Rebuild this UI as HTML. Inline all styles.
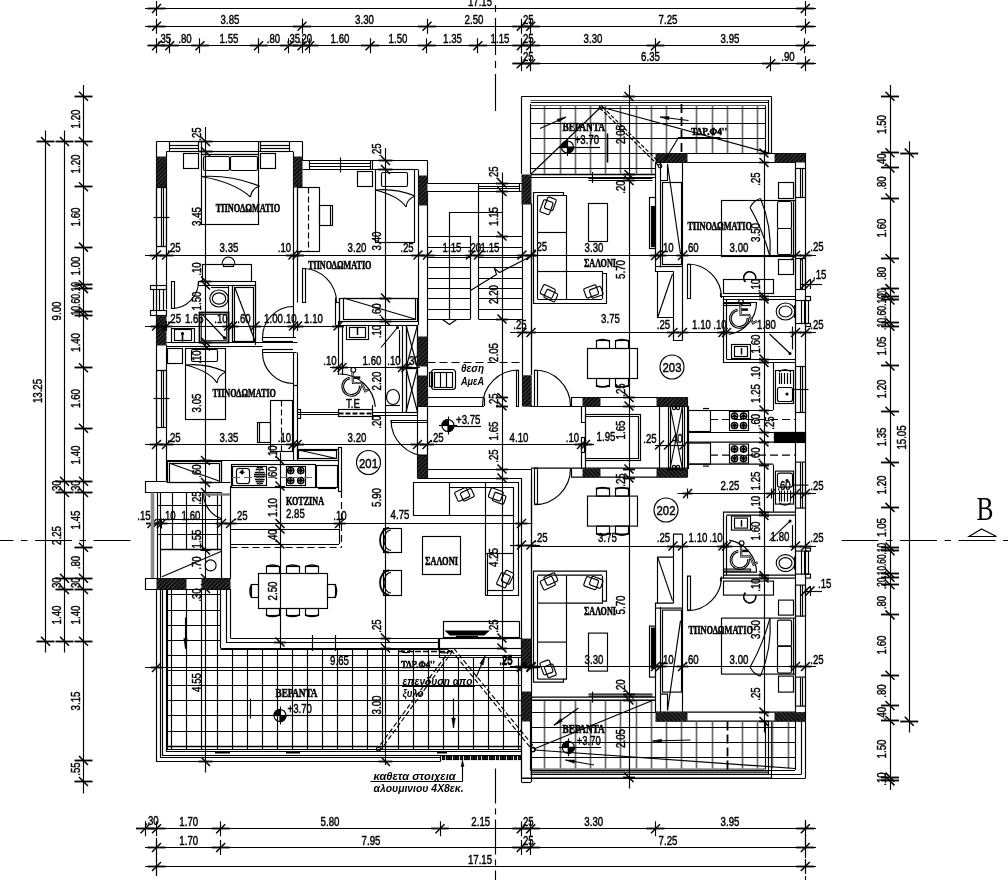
<!DOCTYPE html>
<html><head><meta charset="utf-8"><title>Κάτοψη ορόφου</title>
<style>
html,body{margin:0;padding:0;background:#fff}
svg{display:block}
text{stroke:none;fill:#000}
.n{font-family:"Liberation Sans",sans-serif;stroke:#000;stroke-width:.45}
.r{font-family:"Liberation Serif",serif;font-weight:bold;stroke:#000;stroke-width:.55}
.i{font-family:"Liberation Sans",sans-serif;font-style:italic;font-weight:bold}
.B{font-family:"Liberation Serif",serif}
</style></head><body>
<svg width="1008" height="880" viewBox="0 0 1008 880">
<defs><filter id="soft" x="0" y="0" width="1008" height="880" filterUnits="userSpaceOnUse"><feGaussianBlur stdDeviation="0.4"/></filter><pattern id="ht" width="3" height="3" patternUnits="userSpaceOnUse" patternTransform="rotate(-45)"><rect width="3" height="3" style="fill:#111;stroke:none"/><line x1="0" y1="0" x2="3" y2="0" style="stroke:#777;stroke-width:.8"/></pattern></defs>
<rect x="0" y="0" width="1008" height="880" style="fill:#fff;stroke:none"/>
<g fill="none" stroke="#000" stroke-width="1.15" filter="url(#soft)">
<line x1="145" y1="8.5" x2="816" y2="8.5"/>
<line x1="156.5" y1="1" x2="156.5" y2="16"/>
<line x1="152" y1="13" x2="161" y2="4" stroke-width="1.5"/>
<line x1="147.5" y1="8.5" x2="165.5" y2="8.5" stroke-width="1.8"/>
<line x1="805.5" y1="1" x2="805.5" y2="16"/>
<line x1="800.8" y1="13" x2="809.8" y2="4" stroke-width="1.5"/>
<line x1="796.3" y1="8.5" x2="814.3" y2="8.5" stroke-width="1.8"/>
<text class="n" x="480" y="5.8" font-size="12.6" text-anchor="middle" textLength="24.2" lengthAdjust="spacingAndGlyphs">17.15</text>
<line x1="145" y1="26.5" x2="816" y2="26.5"/>
<line x1="156.5" y1="18.75" x2="156.5" y2="33.75"/>
<line x1="152" y1="30.75" x2="161" y2="21.75" stroke-width="1.5"/>
<line x1="147.5" y1="26.5" x2="165.5" y2="26.5" stroke-width="1.8"/>
<line x1="302.5" y1="18.75" x2="302.5" y2="33.75"/>
<line x1="297.5" y1="30.75" x2="306.5" y2="21.75" stroke-width="1.5"/>
<line x1="293" y1="26.5" x2="311" y2="26.5" stroke-width="1.8"/>
<line x1="427.5" y1="18.75" x2="427.5" y2="33.75"/>
<line x1="422.5" y1="30.75" x2="431.5" y2="21.75" stroke-width="1.5"/>
<line x1="418" y1="26.5" x2="436" y2="26.5" stroke-width="1.8"/>
<line x1="521.5" y1="18.75" x2="521.5" y2="33.75"/>
<line x1="516.8" y1="30.75" x2="525.8" y2="21.75" stroke-width="1.5"/>
<line x1="512.3" y1="26.5" x2="530.3" y2="26.5" stroke-width="1.8"/>
<line x1="530.5" y1="18.75" x2="530.5" y2="33.75"/>
<line x1="526.2" y1="30.75" x2="535.2" y2="21.75" stroke-width="1.5"/>
<line x1="521.7" y1="26.5" x2="539.7" y2="26.5" stroke-width="1.8"/>
<line x1="805.5" y1="18.75" x2="805.5" y2="33.75"/>
<line x1="800.8" y1="30.75" x2="809.8" y2="21.75" stroke-width="1.5"/>
<line x1="796.3" y1="26.5" x2="814.3" y2="26.5" stroke-width="1.8"/>
<text class="n" x="230" y="23.8" font-size="12.6" text-anchor="middle" textLength="18.8" lengthAdjust="spacingAndGlyphs">3.85</text>
<text class="n" x="364.5" y="23.8" font-size="12.6" text-anchor="middle" textLength="18.8" lengthAdjust="spacingAndGlyphs">3.30</text>
<text class="n" x="474" y="23.8" font-size="12.6" text-anchor="middle" textLength="18.8" lengthAdjust="spacingAndGlyphs">2.50</text>
<text class="n" x="668" y="23.8" font-size="12.6" text-anchor="middle" textLength="18.8" lengthAdjust="spacingAndGlyphs">7.25</text>
<text class="n" x="527" y="23.8" font-size="12.6" text-anchor="middle" textLength="13.4" lengthAdjust="spacingAndGlyphs">.25</text>
<line x1="148" y1="45.5" x2="816" y2="45.5"/>
<line x1="156.5" y1="38.25" x2="156.5" y2="53.25"/>
<line x1="152" y1="50.25" x2="161" y2="41.25" stroke-width="1.5"/>
<line x1="147.5" y1="45.5" x2="165.5" y2="45.5" stroke-width="1.8"/>
<line x1="169.5" y1="38.25" x2="169.5" y2="53.25"/>
<line x1="165.23" y1="50.25" x2="174.23" y2="41.25" stroke-width="1.5"/>
<line x1="160.73" y1="45.5" x2="178.73" y2="45.5" stroke-width="1.8"/>
<line x1="199.5" y1="38.25" x2="199.5" y2="53.25"/>
<line x1="195.47" y1="50.25" x2="204.47" y2="41.25" stroke-width="1.5"/>
<line x1="190.97" y1="45.5" x2="208.97" y2="45.5" stroke-width="1.8"/>
<line x1="258.5" y1="38.25" x2="258.5" y2="53.25"/>
<line x1="254.06" y1="50.25" x2="263.06" y2="41.25" stroke-width="1.5"/>
<line x1="249.56" y1="45.5" x2="267.56" y2="45.5" stroke-width="1.8"/>
<line x1="288.5" y1="38.25" x2="288.5" y2="53.25"/>
<line x1="284.3" y1="50.25" x2="293.3" y2="41.25" stroke-width="1.5"/>
<line x1="279.8" y1="45.5" x2="297.8" y2="45.5" stroke-width="1.8"/>
<line x1="302.5" y1="38.25" x2="302.5" y2="53.25"/>
<line x1="297.53" y1="50.25" x2="306.53" y2="41.25" stroke-width="1.5"/>
<line x1="293.03" y1="45.5" x2="311.03" y2="45.5" stroke-width="1.8"/>
<line x1="309.5" y1="38.25" x2="309.5" y2="53.25"/>
<line x1="305.09" y1="50.25" x2="314.09" y2="41.25" stroke-width="1.5"/>
<line x1="300.59" y1="45.5" x2="318.59" y2="45.5" stroke-width="1.8"/>
<line x1="370.5" y1="38.25" x2="370.5" y2="53.25"/>
<line x1="365.57" y1="50.25" x2="374.57" y2="41.25" stroke-width="1.5"/>
<line x1="361.07" y1="45.5" x2="379.07" y2="45.5" stroke-width="1.8"/>
<line x1="426.5" y1="38.25" x2="426.5" y2="53.25"/>
<line x1="422.27" y1="50.25" x2="431.27" y2="41.25" stroke-width="1.5"/>
<line x1="417.77" y1="45.5" x2="435.77" y2="45.5" stroke-width="1.8"/>
<line x1="477.5" y1="38.25" x2="477.5" y2="53.25"/>
<line x1="473.3" y1="50.25" x2="482.3" y2="41.25" stroke-width="1.5"/>
<line x1="468.8" y1="45.5" x2="486.8" y2="45.5" stroke-width="1.8"/>
<line x1="521.5" y1="38.25" x2="521.5" y2="53.25"/>
<line x1="516.77" y1="50.25" x2="525.77" y2="41.25" stroke-width="1.5"/>
<line x1="512.27" y1="45.5" x2="530.27" y2="45.5" stroke-width="1.8"/>
<line x1="530.5" y1="38.25" x2="530.5" y2="53.25"/>
<line x1="526.22" y1="50.25" x2="535.22" y2="41.25" stroke-width="1.5"/>
<line x1="521.72" y1="45.5" x2="539.72" y2="45.5" stroke-width="1.8"/>
<line x1="655.5" y1="38.25" x2="655.5" y2="53.25"/>
<line x1="650.96" y1="50.25" x2="659.96" y2="41.25" stroke-width="1.5"/>
<line x1="646.46" y1="45.5" x2="664.46" y2="45.5" stroke-width="1.8"/>
<line x1="804.5" y1="38.25" x2="804.5" y2="53.25"/>
<line x1="800.27" y1="50.25" x2="809.27" y2="41.25" stroke-width="1.5"/>
<line x1="795.77" y1="45.5" x2="813.77" y2="45.5" stroke-width="1.8"/>
<text class="n" x="185" y="43.3" font-size="12.6" text-anchor="middle" textLength="13.4" lengthAdjust="spacingAndGlyphs">.80</text>
<text class="n" x="229" y="43.3" font-size="12.6" text-anchor="middle" textLength="18.8" lengthAdjust="spacingAndGlyphs">1.55</text>
<text class="n" x="273.5" y="43.3" font-size="12.6" text-anchor="middle" textLength="13.4" lengthAdjust="spacingAndGlyphs">.80</text>
<text class="n" x="340" y="43.3" font-size="12.6" text-anchor="middle" textLength="18.8" lengthAdjust="spacingAndGlyphs">1.60</text>
<text class="n" x="398" y="43.3" font-size="12.6" text-anchor="middle" textLength="18.8" lengthAdjust="spacingAndGlyphs">1.50</text>
<text class="n" x="452.5" y="43.3" font-size="12.6" text-anchor="middle" textLength="18.8" lengthAdjust="spacingAndGlyphs">1.35</text>
<text class="n" x="500" y="43.3" font-size="12.6" text-anchor="middle" textLength="18.8" lengthAdjust="spacingAndGlyphs">1.15</text>
<text class="n" x="593" y="43.3" font-size="12.6" text-anchor="middle" textLength="18.8" lengthAdjust="spacingAndGlyphs">3.30</text>
<text class="n" x="730" y="43.3" font-size="12.6" text-anchor="middle" textLength="18.8" lengthAdjust="spacingAndGlyphs">3.95</text>
<text class="n" x="164.5" y="43.3" font-size="12.6" text-anchor="middle" textLength="13.4" lengthAdjust="spacingAndGlyphs">.35</text>
<text class="n" x="293.5" y="43.3" font-size="12.6" text-anchor="middle" textLength="13.4" lengthAdjust="spacingAndGlyphs">.35</text>
<text class="n" x="305.5" y="43.3" font-size="12.6" text-anchor="middle" textLength="13.4" lengthAdjust="spacingAndGlyphs">.20</text>
<text class="n" x="527" y="43.3" font-size="12.6" text-anchor="middle" textLength="13.4" lengthAdjust="spacingAndGlyphs">.25</text>
<line x1="513.75" y1="63.5" x2="816" y2="63.5"/>
<line x1="521.5" y1="56.25" x2="521.5" y2="71.25"/>
<line x1="516.8" y1="68.25" x2="525.8" y2="59.25" stroke-width="1.5"/>
<line x1="512.3" y1="63.5" x2="530.3" y2="63.5" stroke-width="1.8"/>
<line x1="530.5" y1="56.25" x2="530.5" y2="71.25"/>
<line x1="526.2" y1="68.25" x2="535.2" y2="59.25" stroke-width="1.5"/>
<line x1="521.7" y1="63.5" x2="539.7" y2="63.5" stroke-width="1.8"/>
<line x1="770.5" y1="56.25" x2="770.5" y2="71.25"/>
<line x1="766.3" y1="68.25" x2="775.3" y2="59.25" stroke-width="1.5"/>
<line x1="761.8" y1="63.5" x2="779.8" y2="63.5" stroke-width="1.8"/>
<line x1="805.5" y1="56.25" x2="805.5" y2="71.25"/>
<line x1="800.8" y1="68.25" x2="809.8" y2="59.25" stroke-width="1.5"/>
<line x1="796.3" y1="63.5" x2="814.3" y2="63.5" stroke-width="1.8"/>
<text class="n" x="650.5" y="61.3" font-size="12.6" text-anchor="middle" textLength="18.8" lengthAdjust="spacingAndGlyphs">6.35</text>
<text class="n" x="788" y="61.3" font-size="12.6" text-anchor="middle" textLength="13.4" lengthAdjust="spacingAndGlyphs">.90</text>
<text class="n" x="527" y="61.3" font-size="12.6" text-anchor="middle" textLength="13.4" lengthAdjust="spacingAndGlyphs">.25</text>
<line x1="495.5" y1="111" x2="495.5" y2="0" stroke-dasharray="37 6 7 6"/>
<line x1="495.5" y1="768.5" x2="495.5" y2="880" stroke-dasharray="35 5 6 5"/>
<line x1="137.5" y1="828.5" x2="816" y2="828.5"/>
<line x1="145.5" y1="821.25" x2="145.5" y2="836.25"/>
<line x1="140.5" y1="833.25" x2="149.5" y2="824.25" stroke-width="1.5"/>
<line x1="136" y1="828.5" x2="154" y2="828.5" stroke-width="1.8"/>
<line x1="156.5" y1="821.25" x2="156.5" y2="836.25"/>
<line x1="152" y1="833.25" x2="161" y2="824.25" stroke-width="1.5"/>
<line x1="147.5" y1="828.5" x2="165.5" y2="828.5" stroke-width="1.8"/>
<line x1="220.5" y1="821.25" x2="220.5" y2="836.25"/>
<line x1="216.2" y1="833.25" x2="225.2" y2="824.25" stroke-width="1.5"/>
<line x1="211.7" y1="828.5" x2="229.7" y2="828.5" stroke-width="1.8"/>
<line x1="440.5" y1="821.25" x2="440.5" y2="836.25"/>
<line x1="435.5" y1="833.25" x2="444.5" y2="824.25" stroke-width="1.5"/>
<line x1="431" y1="828.5" x2="449" y2="828.5" stroke-width="1.8"/>
<line x1="521.5" y1="821.25" x2="521.5" y2="836.25"/>
<line x1="516.8" y1="833.25" x2="525.8" y2="824.25" stroke-width="1.5"/>
<line x1="512.3" y1="828.5" x2="530.3" y2="828.5" stroke-width="1.8"/>
<line x1="530.5" y1="821.25" x2="530.5" y2="836.25"/>
<line x1="526.2" y1="833.25" x2="535.2" y2="824.25" stroke-width="1.5"/>
<line x1="521.7" y1="828.5" x2="539.7" y2="828.5" stroke-width="1.8"/>
<line x1="655.5" y1="821.25" x2="655.5" y2="836.25"/>
<line x1="651" y1="833.25" x2="660" y2="824.25" stroke-width="1.5"/>
<line x1="646.5" y1="828.5" x2="664.5" y2="828.5" stroke-width="1.8"/>
<line x1="805.5" y1="821.25" x2="805.5" y2="836.25"/>
<line x1="800.8" y1="833.25" x2="809.8" y2="824.25" stroke-width="1.5"/>
<line x1="796.3" y1="828.5" x2="814.3" y2="828.5" stroke-width="1.8"/>
<text class="n" x="188.75" y="826.3" font-size="12.6" text-anchor="middle" textLength="18.8" lengthAdjust="spacingAndGlyphs">1.70</text>
<text class="n" x="330" y="826.3" font-size="12.6" text-anchor="middle" textLength="18.8" lengthAdjust="spacingAndGlyphs">5.80</text>
<text class="n" x="480.75" y="826.3" font-size="12.6" text-anchor="middle" textLength="18.8" lengthAdjust="spacingAndGlyphs">2.15</text>
<text class="n" x="593.75" y="826.3" font-size="12.6" text-anchor="middle" textLength="18.8" lengthAdjust="spacingAndGlyphs">3.30</text>
<text class="n" x="730" y="826.3" font-size="12.6" text-anchor="middle" textLength="18.8" lengthAdjust="spacingAndGlyphs">3.95</text>
<text class="n" x="152" y="825.3" font-size="12.6" text-anchor="middle" textLength="13.4" lengthAdjust="spacingAndGlyphs">.30</text>
<text class="n" x="527" y="826.3" font-size="12.6" text-anchor="middle" textLength="13.4" lengthAdjust="spacingAndGlyphs">.25</text>
<line x1="145" y1="847.5" x2="816" y2="847.5"/>
<line x1="156.5" y1="840" x2="156.5" y2="855"/>
<line x1="152" y1="852" x2="161" y2="843" stroke-width="1.5"/>
<line x1="147.5" y1="847.5" x2="165.5" y2="847.5" stroke-width="1.8"/>
<line x1="220.5" y1="840" x2="220.5" y2="855"/>
<line x1="216.2" y1="852" x2="225.2" y2="843" stroke-width="1.5"/>
<line x1="211.7" y1="847.5" x2="229.7" y2="847.5" stroke-width="1.8"/>
<line x1="521.5" y1="840" x2="521.5" y2="855"/>
<line x1="516.8" y1="852" x2="525.8" y2="843" stroke-width="1.5"/>
<line x1="512.3" y1="847.5" x2="530.3" y2="847.5" stroke-width="1.8"/>
<line x1="530.5" y1="840" x2="530.5" y2="855"/>
<line x1="526.2" y1="852" x2="535.2" y2="843" stroke-width="1.5"/>
<line x1="521.7" y1="847.5" x2="539.7" y2="847.5" stroke-width="1.8"/>
<line x1="805.5" y1="840" x2="805.5" y2="855"/>
<line x1="800.8" y1="852" x2="809.8" y2="843" stroke-width="1.5"/>
<line x1="796.3" y1="847.5" x2="814.3" y2="847.5" stroke-width="1.8"/>
<text class="n" x="188.75" y="845.3" font-size="12.6" text-anchor="middle" textLength="18.8" lengthAdjust="spacingAndGlyphs">1.70</text>
<text class="n" x="371" y="845.3" font-size="12.6" text-anchor="middle" textLength="18.8" lengthAdjust="spacingAndGlyphs">7.95</text>
<text class="n" x="668" y="845.3" font-size="12.6" text-anchor="middle" textLength="18.8" lengthAdjust="spacingAndGlyphs">7.25</text>
<text class="n" x="527" y="845.3" font-size="12.6" text-anchor="middle" textLength="13.4" lengthAdjust="spacingAndGlyphs">.25</text>
<line x1="145" y1="866.5" x2="816" y2="866.5"/>
<line x1="156.5" y1="859" x2="156.5" y2="874"/>
<line x1="152" y1="871" x2="161" y2="862" stroke-width="1.5"/>
<line x1="147.5" y1="866.5" x2="165.5" y2="866.5" stroke-width="1.8"/>
<line x1="805.5" y1="859" x2="805.5" y2="874"/>
<line x1="800.8" y1="871" x2="809.8" y2="862" stroke-width="1.5"/>
<line x1="796.3" y1="866.5" x2="814.3" y2="866.5" stroke-width="1.8"/>
<text class="n" x="480" y="864.3" font-size="12.6" text-anchor="middle" textLength="24.2" lengthAdjust="spacingAndGlyphs">17.15</text>
<line x1="156.5" y1="838" x2="156.5" y2="880" stroke-dasharray="10 4"/>
<line x1="805.5" y1="820" x2="805.5" y2="880" stroke-dasharray="10 4"/>
<line x1="45.5" y1="130.5" x2="45.5" y2="652.5"/>
<line x1="64.5" y1="130.5" x2="64.5" y2="652.5"/>
<line x1="83.5" y1="85" x2="83.5" y2="793.5"/>
<line x1="36.5" y1="141.5" x2="54.5" y2="141.5" stroke-width="1.8"/>
<line x1="41" y1="137" x2="50" y2="146" stroke-width="1.5"/>
<line x1="36.5" y1="641.5" x2="54.5" y2="641.5" stroke-width="1.8"/>
<line x1="41" y1="636.75" x2="50" y2="645.75" stroke-width="1.5"/>
<line x1="55.5" y1="141.5" x2="73.5" y2="141.5" stroke-width="1.8"/>
<line x1="60" y1="137" x2="69" y2="146" stroke-width="1.5"/>
<line x1="55.5" y1="481.5" x2="73.5" y2="481.5" stroke-width="1.8"/>
<line x1="60" y1="476.75" x2="69" y2="485.75" stroke-width="1.5"/>
<line x1="55.5" y1="492.5" x2="73.5" y2="492.5" stroke-width="1.8"/>
<line x1="60" y1="488" x2="69" y2="497" stroke-width="1.5"/>
<line x1="55.5" y1="578.5" x2="73.5" y2="578.5" stroke-width="1.8"/>
<line x1="60" y1="573.75" x2="69" y2="582.75" stroke-width="1.5"/>
<line x1="55.5" y1="589.5" x2="73.5" y2="589.5" stroke-width="1.8"/>
<line x1="60" y1="585" x2="69" y2="594" stroke-width="1.5"/>
<line x1="55.5" y1="641.5" x2="73.5" y2="641.5" stroke-width="1.8"/>
<line x1="60" y1="636.75" x2="69" y2="645.75" stroke-width="1.5"/>
<line x1="74.5" y1="96.5" x2="92.5" y2="96.5" stroke-width="1.8"/>
<line x1="79" y1="91.75" x2="88" y2="100.75" stroke-width="1.5"/>
<line x1="74.5" y1="141.5" x2="92.5" y2="141.5" stroke-width="1.8"/>
<line x1="79" y1="137" x2="88" y2="146" stroke-width="1.5"/>
<line x1="74.5" y1="186.5" x2="92.5" y2="186.5" stroke-width="1.8"/>
<line x1="79" y1="182.3" x2="88" y2="191.3" stroke-width="1.5"/>
<line x1="74.5" y1="247.5" x2="92.5" y2="247.5" stroke-width="1.8"/>
<line x1="79" y1="242.6" x2="88" y2="251.6" stroke-width="1.5"/>
<line x1="74.5" y1="284.5" x2="92.5" y2="284.5" stroke-width="1.8"/>
<line x1="79" y1="280.3" x2="88" y2="289.3" stroke-width="1.5"/>
<line x1="74.5" y1="288.5" x2="92.5" y2="288.5" stroke-width="1.8"/>
<line x1="79" y1="284.1" x2="88" y2="293.1" stroke-width="1.5"/>
<line x1="74.5" y1="311.5" x2="92.5" y2="311.5" stroke-width="1.8"/>
<line x1="79" y1="306.7" x2="88" y2="315.7" stroke-width="1.5"/>
<line x1="74.5" y1="315.5" x2="92.5" y2="315.5" stroke-width="1.8"/>
<line x1="79" y1="310.5" x2="88" y2="319.5" stroke-width="1.5"/>
<line x1="74.5" y1="367.5" x2="92.5" y2="367.5" stroke-width="1.8"/>
<line x1="79" y1="363.3" x2="88" y2="372.3" stroke-width="1.5"/>
<line x1="74.5" y1="428.5" x2="92.5" y2="428.5" stroke-width="1.8"/>
<line x1="79" y1="423.7" x2="88" y2="432.7" stroke-width="1.5"/>
<line x1="74.5" y1="481.5" x2="92.5" y2="481.5" stroke-width="1.8"/>
<line x1="79" y1="476.75" x2="88" y2="485.75" stroke-width="1.5"/>
<line x1="74.5" y1="492.5" x2="92.5" y2="492.5" stroke-width="1.8"/>
<line x1="79" y1="488" x2="88" y2="497" stroke-width="1.5"/>
<line x1="74.5" y1="547.5" x2="92.5" y2="547.5" stroke-width="1.8"/>
<line x1="79" y1="542.8" x2="88" y2="551.8" stroke-width="1.5"/>
<line x1="74.5" y1="578.5" x2="92.5" y2="578.5" stroke-width="1.8"/>
<line x1="79" y1="573.75" x2="88" y2="582.75" stroke-width="1.5"/>
<line x1="74.5" y1="589.5" x2="92.5" y2="589.5" stroke-width="1.8"/>
<line x1="79" y1="585" x2="88" y2="594" stroke-width="1.5"/>
<line x1="74.5" y1="641.5" x2="92.5" y2="641.5" stroke-width="1.8"/>
<line x1="79" y1="636.75" x2="88" y2="645.75" stroke-width="1.5"/>
<line x1="74.5" y1="760.5" x2="92.5" y2="760.5" stroke-width="1.8"/>
<line x1="79" y1="756" x2="88" y2="765" stroke-width="1.5"/>
<line x1="74.5" y1="781.5" x2="92.5" y2="781.5" stroke-width="1.8"/>
<line x1="79" y1="777" x2="88" y2="786" stroke-width="1.5"/>
<text class="n" font-size="12.6" text-anchor="middle" textLength="24.2" lengthAdjust="spacingAndGlyphs" transform="translate(41.7 391) rotate(-90)">13.25</text>
<text class="n" font-size="12.6" text-anchor="middle" textLength="18.8" lengthAdjust="spacingAndGlyphs" transform="translate(60.7 311) rotate(-90)">9.00</text>
<text class="n" font-size="12.6" text-anchor="middle" textLength="18.8" lengthAdjust="spacingAndGlyphs" transform="translate(60.7 535.5) rotate(-90)">2.25</text>
<text class="n" font-size="12.6" text-anchor="middle" textLength="18.8" lengthAdjust="spacingAndGlyphs" transform="translate(60.7 615) rotate(-90)">1.40</text>
<text class="n" font-size="12.6" text-anchor="middle" textLength="13.4" lengthAdjust="spacingAndGlyphs" transform="translate(60.7 487) rotate(-90)">.30</text>
<text class="n" font-size="12.6" text-anchor="middle" textLength="13.4" lengthAdjust="spacingAndGlyphs" transform="translate(60.7 584) rotate(-90)">.30</text>
<text class="n" font-size="12.6" text-anchor="middle" textLength="18.8" lengthAdjust="spacingAndGlyphs" transform="translate(79.7 119) rotate(-90)">1.20</text>
<text class="n" font-size="12.6" text-anchor="middle" textLength="18.8" lengthAdjust="spacingAndGlyphs" transform="translate(79.7 164) rotate(-90)">1.20</text>
<text class="n" font-size="12.6" text-anchor="middle" textLength="18.8" lengthAdjust="spacingAndGlyphs" transform="translate(79.7 217) rotate(-90)">1.60</text>
<text class="n" font-size="12.6" text-anchor="middle" textLength="18.8" lengthAdjust="spacingAndGlyphs" transform="translate(79.7 266) rotate(-90)">1.00</text>
<text class="n" font-size="12.6" text-anchor="middle" textLength="18.8" lengthAdjust="spacingAndGlyphs" transform="translate(79.7 342.5) rotate(-90)">1.40</text>
<text class="n" font-size="12.6" text-anchor="middle" textLength="18.8" lengthAdjust="spacingAndGlyphs" transform="translate(79.7 398.5) rotate(-90)">1.60</text>
<text class="n" font-size="12.6" text-anchor="middle" textLength="18.8" lengthAdjust="spacingAndGlyphs" transform="translate(79.7 455) rotate(-90)">1.40</text>
<text class="n" font-size="12.6" text-anchor="middle" textLength="18.8" lengthAdjust="spacingAndGlyphs" transform="translate(79.7 520) rotate(-90)">1.45</text>
<text class="n" font-size="12.6" text-anchor="middle" textLength="13.4" lengthAdjust="spacingAndGlyphs" transform="translate(79.7 562.5) rotate(-90)">.80</text>
<text class="n" font-size="12.6" text-anchor="middle" textLength="18.8" lengthAdjust="spacingAndGlyphs" transform="translate(79.7 615) rotate(-90)">1.40</text>
<text class="n" font-size="12.6" text-anchor="middle" textLength="18.8" lengthAdjust="spacingAndGlyphs" transform="translate(79.7 701) rotate(-90)">3.15</text>
<text class="n" font-size="12.6" text-anchor="middle" textLength="13.4" lengthAdjust="spacingAndGlyphs" transform="translate(79.7 769) rotate(-90)">.55</text>
<text class="n" font-size="12.6" text-anchor="middle" textLength="36" lengthAdjust="spacingAndGlyphs" transform="translate(79.7 300) rotate(-90)">.10.60.10</text>
<text class="n" font-size="12.6" text-anchor="middle" textLength="13.4" lengthAdjust="spacingAndGlyphs" transform="translate(79.7 487) rotate(-90)">.30</text>
<text class="n" font-size="12.6" text-anchor="middle" textLength="13.4" lengthAdjust="spacingAndGlyphs" transform="translate(79.7 584) rotate(-90)">.30</text>
<line x1="890.5" y1="85" x2="890.5" y2="790"/>
<line x1="909.5" y1="141.25" x2="909.5" y2="732.5"/>
<line x1="881" y1="96.5" x2="899" y2="96.5" stroke-width="1.8"/>
<line x1="885.5" y1="91.75" x2="894.5" y2="100.75" stroke-width="1.5"/>
<line x1="881" y1="152.5" x2="899" y2="152.5" stroke-width="1.8"/>
<line x1="885.5" y1="148.33" x2="894.5" y2="157.33" stroke-width="1.5"/>
<line x1="881" y1="167.5" x2="899" y2="167.5" stroke-width="1.8"/>
<line x1="885.5" y1="163.42" x2="894.5" y2="172.42" stroke-width="1.5"/>
<line x1="881" y1="198.5" x2="899" y2="198.5" stroke-width="1.8"/>
<line x1="885.5" y1="193.59" x2="894.5" y2="202.59" stroke-width="1.5"/>
<line x1="881" y1="258.5" x2="899" y2="258.5" stroke-width="1.8"/>
<line x1="885.5" y1="253.95" x2="894.5" y2="262.95" stroke-width="1.5"/>
<line x1="881" y1="288.5" x2="899" y2="288.5" stroke-width="1.8"/>
<line x1="885.5" y1="284.12" x2="894.5" y2="293.12" stroke-width="1.5"/>
<line x1="881" y1="296.5" x2="899" y2="296.5" stroke-width="1.8"/>
<line x1="885.5" y1="291.67" x2="894.5" y2="300.67" stroke-width="1.5"/>
<line x1="881" y1="299.5" x2="899" y2="299.5" stroke-width="1.8"/>
<line x1="885.5" y1="295.44" x2="894.5" y2="304.44" stroke-width="1.5"/>
<line x1="881" y1="322.5" x2="899" y2="322.5" stroke-width="1.8"/>
<line x1="885.5" y1="318.07" x2="894.5" y2="327.07" stroke-width="1.5"/>
<line x1="881" y1="326.5" x2="899" y2="326.5" stroke-width="1.8"/>
<line x1="885.5" y1="321.84" x2="894.5" y2="330.84" stroke-width="1.5"/>
<line x1="881" y1="365.5" x2="899" y2="365.5" stroke-width="1.8"/>
<line x1="885.5" y1="361.45" x2="894.5" y2="370.45" stroke-width="1.5"/>
<line x1="881" y1="411.5" x2="899" y2="411.5" stroke-width="1.8"/>
<line x1="885.5" y1="406.71" x2="894.5" y2="415.71" stroke-width="1.5"/>
<line x1="881" y1="462.5" x2="899" y2="462.5" stroke-width="1.8"/>
<line x1="885.5" y1="457.63" x2="894.5" y2="466.63" stroke-width="1.5"/>
<line x1="881" y1="507.5" x2="899" y2="507.5" stroke-width="1.8"/>
<line x1="885.5" y1="502.9" x2="894.5" y2="511.9" stroke-width="1.5"/>
<line x1="881" y1="547.5" x2="899" y2="547.5" stroke-width="1.8"/>
<line x1="885.5" y1="542.5" x2="894.5" y2="551.5" stroke-width="1.5"/>
<line x1="881" y1="550.5" x2="899" y2="550.5" stroke-width="1.8"/>
<line x1="885.5" y1="546.28" x2="894.5" y2="555.28" stroke-width="1.5"/>
<line x1="881" y1="573.5" x2="899" y2="573.5" stroke-width="1.8"/>
<line x1="885.5" y1="568.91" x2="894.5" y2="577.91" stroke-width="1.5"/>
<line x1="881" y1="577.5" x2="899" y2="577.5" stroke-width="1.8"/>
<line x1="885.5" y1="572.68" x2="894.5" y2="581.68" stroke-width="1.5"/>
<line x1="881" y1="584.5" x2="899" y2="584.5" stroke-width="1.8"/>
<line x1="885.5" y1="580.22" x2="894.5" y2="589.22" stroke-width="1.5"/>
<line x1="881" y1="614.5" x2="899" y2="614.5" stroke-width="1.8"/>
<line x1="885.5" y1="610.4" x2="894.5" y2="619.4" stroke-width="1.5"/>
<line x1="881" y1="675.5" x2="899" y2="675.5" stroke-width="1.8"/>
<line x1="885.5" y1="670.75" x2="894.5" y2="679.75" stroke-width="1.5"/>
<line x1="881" y1="705.5" x2="899" y2="705.5" stroke-width="1.8"/>
<line x1="885.5" y1="700.93" x2="894.5" y2="709.93" stroke-width="1.5"/>
<line x1="881" y1="720.5" x2="899" y2="720.5" stroke-width="1.8"/>
<line x1="885.5" y1="716.02" x2="894.5" y2="725.02" stroke-width="1.5"/>
<line x1="881" y1="777.5" x2="899" y2="777.5" stroke-width="1.8"/>
<line x1="885.5" y1="772.6" x2="894.5" y2="781.6" stroke-width="1.5"/>
<line x1="881" y1="780.5" x2="899" y2="780.5" stroke-width="1.8"/>
<line x1="885.5" y1="776.37" x2="894.5" y2="785.37" stroke-width="1.5"/>
<line x1="900.25" y1="153.5" x2="918.25" y2="153.5" stroke-width="1.8"/>
<line x1="904.75" y1="148.5" x2="913.75" y2="157.5" stroke-width="1.5"/>
<line x1="900.25" y1="721.5" x2="918.25" y2="721.5" stroke-width="1.8"/>
<line x1="904.75" y1="716.75" x2="913.75" y2="725.75" stroke-width="1.5"/>
<text class="n" font-size="12.6" text-anchor="middle" textLength="24.2" lengthAdjust="spacingAndGlyphs" transform="translate(905.7 437.5) rotate(-90)">15.05</text>
<text class="n" font-size="12.6" text-anchor="middle" textLength="18.8" lengthAdjust="spacingAndGlyphs" transform="translate(885.7 124.5) rotate(-90)">1.50</text>
<text class="n" font-size="12.6" text-anchor="middle" textLength="13.4" lengthAdjust="spacingAndGlyphs" transform="translate(885.7 160) rotate(-90)">.40</text>
<text class="n" font-size="12.6" text-anchor="middle" textLength="13.4" lengthAdjust="spacingAndGlyphs" transform="translate(885.7 183) rotate(-90)">.80</text>
<text class="n" font-size="12.6" text-anchor="middle" textLength="18.8" lengthAdjust="spacingAndGlyphs" transform="translate(885.7 228) rotate(-90)">1.60</text>
<text class="n" font-size="12.6" text-anchor="middle" textLength="13.4" lengthAdjust="spacingAndGlyphs" transform="translate(885.7 273.5) rotate(-90)">.80</text>
<text class="n" font-size="12.6" text-anchor="middle" textLength="18.8" lengthAdjust="spacingAndGlyphs" transform="translate(885.7 346) rotate(-90)">1.05</text>
<text class="n" font-size="12.6" text-anchor="middle" textLength="18.8" lengthAdjust="spacingAndGlyphs" transform="translate(885.7 389) rotate(-90)">1.20</text>
<text class="n" font-size="12.6" text-anchor="middle" textLength="18.8" lengthAdjust="spacingAndGlyphs" transform="translate(885.7 437) rotate(-90)">1.35</text>
<text class="n" font-size="12.6" text-anchor="middle" textLength="18.8" lengthAdjust="spacingAndGlyphs" transform="translate(885.7 485) rotate(-90)">1.20</text>
<text class="n" font-size="12.6" text-anchor="middle" textLength="18.8" lengthAdjust="spacingAndGlyphs" transform="translate(885.7 527.5) rotate(-90)">1.05</text>
<text class="n" font-size="12.6" text-anchor="middle" textLength="13.4" lengthAdjust="spacingAndGlyphs" transform="translate(885.7 602.5) rotate(-90)">.80</text>
<text class="n" font-size="12.6" text-anchor="middle" textLength="18.8" lengthAdjust="spacingAndGlyphs" transform="translate(885.7 645) rotate(-90)">1.60</text>
<text class="n" font-size="12.6" text-anchor="middle" textLength="13.4" lengthAdjust="spacingAndGlyphs" transform="translate(885.7 691) rotate(-90)">.80</text>
<text class="n" font-size="12.6" text-anchor="middle" textLength="13.4" lengthAdjust="spacingAndGlyphs" transform="translate(885.7 713.5) rotate(-90)">.40</text>
<text class="n" font-size="12.6" text-anchor="middle" textLength="18.8" lengthAdjust="spacingAndGlyphs" transform="translate(885.7 749) rotate(-90)">1.50</text>
<text class="n" font-size="12.6" text-anchor="middle" textLength="13.4" lengthAdjust="spacingAndGlyphs" transform="translate(885.7 779) rotate(-90)">.10</text>
<text class="n" font-size="12.6" text-anchor="middle" textLength="36" lengthAdjust="spacingAndGlyphs" transform="translate(885.7 312) rotate(-90)">.10.60.10</text>
<text class="n" font-size="12.6" text-anchor="middle" textLength="9" lengthAdjust="spacingAndGlyphs" transform="translate(885.7 293) rotate(-90)">.20</text>
<text class="n" font-size="12.6" text-anchor="middle" textLength="46" lengthAdjust="spacingAndGlyphs" transform="translate(885.7 566) rotate(-90)">.20.10.60.10</text>
<line x1="130.5" y1="540.5" x2="0" y2="540.5" stroke-dasharray="37 7.5 6.5 7.5"/>
<line x1="841.5" y1="540.5" x2="1008" y2="540.5" stroke-dasharray="37 7.5 6.5 7.5"/>
<text class="B" x="976.5" y="519.5" font-size="34" textLength="17" lengthAdjust="spacingAndGlyphs">B</text>
<path d="M969 536.5 L981.5 529 L996.5 536.5 Z"/>
<line x1="156.5" y1="141.5" x2="302.5" y2="141.5"/>
<line x1="156.5" y1="141.5" x2="156.5" y2="345"/>
<line x1="302.5" y1="141.5" x2="302.5" y2="160.5"/>
<line x1="166.5" y1="151.5" x2="293" y2="151.5"/>
<line x1="166.5" y1="151.5" x2="166.5" y2="281.5"/>
<line x1="293.5" y1="151.5" x2="293.5" y2="338"/>
<rect x="156.5" y="156.5" width="10" height="31" style="fill:url(#ht);stroke:none"/>
<rect x="293.5" y="156.5" width="9" height="31" style="fill:url(#ht);stroke:none"/>
<line x1="169.5" y1="141.5" x2="198.5" y2="141.5"/>
<line x1="169.5" y1="151.5" x2="198.5" y2="151.5"/>
<line x1="169.5" y1="145.5" x2="198.5" y2="145.5"/>
<line x1="169.5" y1="148.5" x2="198.5" y2="148.5"/>
<line x1="169.5" y1="141.5" x2="169.5" y2="151.5"/>
<line x1="198.5" y1="141.5" x2="198.5" y2="151.5"/>
<line x1="201.5" y1="141.5" x2="201.5" y2="151.5"/>
<line x1="260" y1="141.5" x2="289" y2="141.5"/>
<line x1="260" y1="151.5" x2="289" y2="151.5"/>
<line x1="260" y1="145.5" x2="289" y2="145.5"/>
<line x1="260" y1="148.5" x2="289" y2="148.5"/>
<line x1="260.5" y1="141.5" x2="260.5" y2="151.5"/>
<line x1="289.5" y1="141.5" x2="289.5" y2="151.5"/>
<line x1="258.5" y1="141.5" x2="258.5" y2="151.5"/>
<line x1="156.5" y1="187.5" x2="156.5" y2="246"/>
<line x1="166.5" y1="187.5" x2="166.5" y2="246"/>
<line x1="161.5" y1="187.5" x2="161.5" y2="246"/>
<line x1="163.5" y1="187.5" x2="163.5" y2="246"/>
<line x1="156.5" y1="187.5" x2="166.5" y2="187.5"/>
<line x1="156.5" y1="246.5" x2="166.5" y2="246.5"/>
<line x1="153.5" y1="217.5" x2="169.5" y2="217.5"/>
<line x1="156.5" y1="246.5" x2="166.5" y2="246.5"/>
<rect x="201.5" y="151.5" width="57" height="3"/>
<rect x="201.5" y="154.5" width="57" height="70"/>
<rect x="203.5" y="156.5" width="26" height="14" rx="1.5"/>
<rect x="230.5" y="156.5" width="27" height="14" rx="1.5"/>
<rect x="183.5" y="153.5" width="15" height="15"/>
<rect x="260.5" y="153.5" width="15" height="15"/>
<path d="M201.5 176.5 Q230.5 174.5 259.5 186"/>
<path d="M201.5 176.5 Q234.5 182.5 250.5 197"/>
<path d="M259.5 186 Q251.5 189 250.5 197"/>
<text class="n" font-size="12.6" text-anchor="middle" textLength="18.8" lengthAdjust="spacingAndGlyphs" transform="translate(201.2 216.5) rotate(-90)">3.45</text>
<text class="r" x="215.8" y="211.7" font-size="12.8" textLength="64.5" lengthAdjust="spacingAndGlyphs">ΤΠΝΟΔΩΜΑΤΙΟ</text>
<line x1="205.5" y1="127" x2="205.5" y2="772.5"/>
<line x1="198.5" y1="141.5" x2="212.5" y2="141.5" stroke-width="1.8"/>
<line x1="201" y1="137" x2="210" y2="146" stroke-width="1.5"/>
<line x1="198.5" y1="151.5" x2="212.5" y2="151.5" stroke-width="1.8"/>
<line x1="201" y1="147" x2="210" y2="156" stroke-width="1.5"/>
<text class="n" font-size="12.6" text-anchor="middle" textLength="13.4" lengthAdjust="spacingAndGlyphs" transform="translate(200.7 134) rotate(-90)">.25</text>
<line x1="145" y1="255.5" x2="531" y2="255.5"/>
<line x1="156.5" y1="250" x2="156.5" y2="260"/>
<line x1="152" y1="259.5" x2="161" y2="250.5" stroke-width="1.5"/>
<line x1="149.5" y1="255.5" x2="163.5" y2="255.5" stroke-width="1.8"/>
<line x1="166.5" y1="250" x2="166.5" y2="260"/>
<line x1="162" y1="259.5" x2="171" y2="250.5" stroke-width="1.5"/>
<line x1="159.5" y1="255.5" x2="173.5" y2="255.5" stroke-width="1.8"/>
<line x1="293.5" y1="250" x2="293.5" y2="260"/>
<line x1="288.5" y1="259.5" x2="297.5" y2="250.5" stroke-width="1.5"/>
<line x1="286" y1="255.5" x2="300" y2="255.5" stroke-width="1.8"/>
<line x1="297.5" y1="250" x2="297.5" y2="260"/>
<line x1="292.5" y1="259.5" x2="301.5" y2="250.5" stroke-width="1.5"/>
<line x1="290" y1="255.5" x2="304" y2="255.5" stroke-width="1.8"/>
<line x1="418.5" y1="250" x2="418.5" y2="260"/>
<line x1="413.5" y1="259.5" x2="422.5" y2="250.5" stroke-width="1.5"/>
<line x1="411" y1="255.5" x2="425" y2="255.5" stroke-width="1.8"/>
<line x1="427.5" y1="250" x2="427.5" y2="260"/>
<line x1="423" y1="259.5" x2="432" y2="250.5" stroke-width="1.5"/>
<line x1="420.5" y1="255.5" x2="434.5" y2="255.5" stroke-width="1.8"/>
<text class="n" x="174" y="252.3" font-size="12.6" text-anchor="middle" textLength="13.4" lengthAdjust="spacingAndGlyphs">.25</text>
<text class="n" x="229" y="252.3" font-size="12.6" text-anchor="middle" textLength="18.8" lengthAdjust="spacingAndGlyphs">3.35</text>
<text class="n" x="284.5" y="252.3" font-size="12.6" text-anchor="middle" textLength="13.4" lengthAdjust="spacingAndGlyphs">.10</text>
<text class="n" x="357" y="252.3" font-size="12.6" text-anchor="middle" textLength="18.8" lengthAdjust="spacingAndGlyphs">3.20</text>
<text class="n" x="407" y="252.3" font-size="12.6" text-anchor="middle" textLength="13.4" lengthAdjust="spacingAndGlyphs">.25</text>
<rect x="202.5" y="264.5" width="49" height="17"/>
<path d="M222 264.5 A6.5 7.5 0 0 1 235 264.5"/>
<rect x="223.5" y="264.5" width="10" height="2"/>
<line x1="198.5" y1="281.5" x2="255" y2="281.5"/>
<line x1="198.5" y1="285.5" x2="255" y2="285.5"/>
<line x1="198.5" y1="281" x2="198.5" y2="285"/>
<line x1="228.5" y1="285" x2="228.5" y2="342"/>
<line x1="232.5" y1="285" x2="232.5" y2="342"/>
<line x1="255.5" y1="281" x2="255.5" y2="345"/>
<ellipse cx="219" cy="298.5" rx="9.2" ry="8.5"/>
<ellipse cx="219" cy="298.5" rx="6.7" ry="5.7"/>
<line x1="211" y1="287.5" x2="228.5" y2="287.5"/>
<rect x="199.5" y="312.5" width="29" height="30" stroke-width="1.8"/>
<rect x="201.5" y="314.5" width="25" height="26" stroke-width="0.8"/>
<line x1="202" y1="314" x2="224.5" y2="338"/>
<circle cx="224.5" cy="338" r="1.2" style="fill:#000"/>
<rect x="232.5" y="285.5" width="23" height="56"/>
<rect x="234.5" y="287.5" width="19" height="54"/>
<line x1="235" y1="288" x2="255" y2="341"/>
<path d="M171.5 308.5 A27 27 0 0 0 198.5 281.5"/>
<path d="M171.5 281.5 L171.5 308.5 L174.5 308.5 L174.5 281.5 Z"/>
<line x1="166.5" y1="281.5" x2="166.5" y2="309"/>
<rect x="150.5" y="285.5" width="16" height="4"/>
<rect x="150.5" y="310.5" width="16" height="5"/>
<line x1="153.5" y1="289.5" x2="153.5" y2="310.5"/>
<line x1="156.5" y1="289.5" x2="156.5" y2="310.5"/>
<line x1="159.5" y1="289.5" x2="159.5" y2="310.5"/>
<line x1="163.5" y1="289.5" x2="163.5" y2="310.5"/>
<rect x="156.5" y="315.5" width="10" height="30" style="fill:url(#ht);stroke:none"/>
<line x1="145" y1="326.5" x2="342.5" y2="326.5"/>
<line x1="156.5" y1="321" x2="156.5" y2="331"/>
<line x1="152" y1="330.5" x2="161" y2="321.5" stroke-width="1.5"/>
<line x1="150.5" y1="326.5" x2="162.5" y2="326.5" stroke-width="1.8"/>
<line x1="166.5" y1="321" x2="166.5" y2="331"/>
<line x1="162" y1="330.5" x2="171" y2="321.5" stroke-width="1.5"/>
<line x1="160.5" y1="326.5" x2="172.5" y2="326.5" stroke-width="1.8"/>
<line x1="228.5" y1="321" x2="228.5" y2="331"/>
<line x1="224" y1="330.5" x2="233" y2="321.5" stroke-width="1.5"/>
<line x1="222.5" y1="326.5" x2="234.5" y2="326.5" stroke-width="1.8"/>
<line x1="232.5" y1="321" x2="232.5" y2="331"/>
<line x1="228" y1="330.5" x2="237" y2="321.5" stroke-width="1.5"/>
<line x1="226.5" y1="326.5" x2="238.5" y2="326.5" stroke-width="1.8"/>
<line x1="255.5" y1="321" x2="255.5" y2="331"/>
<line x1="250.5" y1="330.5" x2="259.5" y2="321.5" stroke-width="1.5"/>
<line x1="249" y1="326.5" x2="261" y2="326.5" stroke-width="1.8"/>
<line x1="293.5" y1="321" x2="293.5" y2="331"/>
<line x1="289" y1="330.5" x2="298" y2="321.5" stroke-width="1.5"/>
<line x1="287.5" y1="326.5" x2="299.5" y2="326.5" stroke-width="1.8"/>
<line x1="297.5" y1="321" x2="297.5" y2="331"/>
<line x1="293" y1="330.5" x2="302" y2="321.5" stroke-width="1.5"/>
<line x1="291.5" y1="326.5" x2="303.5" y2="326.5" stroke-width="1.8"/>
<line x1="338.5" y1="321" x2="338.5" y2="331"/>
<line x1="333.5" y1="330.5" x2="342.5" y2="321.5" stroke-width="1.5"/>
<line x1="332" y1="326.5" x2="344" y2="326.5" stroke-width="1.8"/>
<text class="n" x="174.3" y="323.3" font-size="12.6" text-anchor="middle" textLength="13.4" lengthAdjust="spacingAndGlyphs">.25</text>
<text class="n" x="194.3" y="323.3" font-size="12.6" text-anchor="middle" textLength="18.8" lengthAdjust="spacingAndGlyphs">1.65</text>
<text class="n" x="221" y="323.3" font-size="12.6" text-anchor="middle" textLength="13.4" lengthAdjust="spacingAndGlyphs">.10</text>
<text class="n" x="244" y="323.3" font-size="12.6" text-anchor="middle" textLength="13.4" lengthAdjust="spacingAndGlyphs">.60</text>
<text class="n" x="273.5" y="323.3" font-size="12.6" text-anchor="middle" textLength="18.8" lengthAdjust="spacingAndGlyphs">1.00</text>
<text class="n" x="290" y="323.3" font-size="12.6" text-anchor="middle" textLength="13.4" lengthAdjust="spacingAndGlyphs">.10</text>
<text class="n" x="313.5" y="323.3" font-size="12.6" text-anchor="middle" textLength="18.8" lengthAdjust="spacingAndGlyphs">1.10</text>
<text class="n" font-size="12.6" text-anchor="middle" textLength="18.8" lengthAdjust="spacingAndGlyphs" transform="translate(201.2 301) rotate(-90)">1.50</text>
<text class="n" font-size="12.6" text-anchor="middle" textLength="13.4" lengthAdjust="spacingAndGlyphs" transform="translate(200.7 269) rotate(-90)">.10</text>
<line x1="199.5" y1="281.5" x2="211.5" y2="281.5" stroke-width="1.8"/>
<line x1="201" y1="276.5" x2="210" y2="285.5" stroke-width="1.5"/>
<line x1="200.5" y1="285.5" x2="210.5" y2="285.5"/>
<line x1="201" y1="280.5" x2="210" y2="289.5" stroke-width="1.5"/>
<line x1="199.5" y1="342.5" x2="211.5" y2="342.5" stroke-width="1.8"/>
<line x1="201" y1="337.5" x2="210" y2="346.5" stroke-width="1.5"/>
<line x1="200.5" y1="346.5" x2="210.5" y2="346.5"/>
<line x1="201" y1="341.5" x2="210" y2="350.5" stroke-width="1.5"/>
<rect x="171.5" y="328.5" width="23" height="14"/>
<rect x="174.5" y="329.5" width="17" height="11"/>
<line x1="182.5" y1="334" x2="182.5" y2="341.5" stroke-width="1.6"/>
<circle cx="182.5" cy="333.5" r="1" style="fill:#000"/>
<line x1="166.5" y1="342.5" x2="297.5" y2="342.5"/>
<line x1="166.5" y1="346.5" x2="262.5" y2="346.5"/>
<line x1="262.5" y1="337.5" x2="296" y2="337.5"/>
<line x1="262.5" y1="341.5" x2="293" y2="341.5"/>
<line x1="262.5" y1="337.5" x2="262.5" y2="341"/>
<line x1="262.5" y1="352.5" x2="296.5" y2="352.5"/>
<line x1="262.5" y1="349.5" x2="293" y2="349.5"/>
<line x1="262.5" y1="349.5" x2="262.5" y2="352.5"/>
<path d="M262.5 337.5 A31 31 0 0 1 293.5 306.5"/>
<path d="M262.5 352.5 A31 31 0 0 0 293.5 383.5"/>
<line x1="297.5" y1="187.5" x2="297.5" y2="302.5"/>
<line x1="293.5" y1="352.5" x2="293.5" y2="385"/>
<line x1="297.5" y1="352.5" x2="297.5" y2="385"/>
<line x1="166.5" y1="345" x2="166.5" y2="481"/>
<line x1="156.5" y1="345" x2="156.5" y2="481"/>
<line x1="156.5" y1="370" x2="156.5" y2="427.5"/>
<line x1="166.5" y1="370" x2="166.5" y2="427.5"/>
<line x1="161.5" y1="370" x2="161.5" y2="427.5"/>
<line x1="163.5" y1="370" x2="163.5" y2="427.5"/>
<line x1="156.5" y1="370.5" x2="166.5" y2="370.5"/>
<line x1="156.5" y1="427.5" x2="166.5" y2="427.5"/>
<line x1="153.5" y1="398.5" x2="169.5" y2="398.5"/>
<line x1="156.5" y1="370.5" x2="166.5" y2="370.5"/>
<rect x="185.5" y="348.5" width="40" height="71"/>
<rect x="191.5" y="349.5" width="26" height="12" rx="1.5"/>
<rect x="167.5" y="348.5" width="15" height="15"/>
<path d="M185.5 365 Q205.75 363 226 372"/>
<path d="M185.5 365 Q209.75 371 217 383"/>
<path d="M226 372 Q218 375 217 383"/>
<text class="n" font-size="12.6" text-anchor="middle" textLength="18.8" lengthAdjust="spacingAndGlyphs" transform="translate(201.2 403) rotate(-90)">3.05</text>
<text class="n" font-size="12.6" text-anchor="middle" textLength="13.4" lengthAdjust="spacingAndGlyphs" transform="translate(200.7 357) rotate(-90)">.10</text>
<text class="r" x="212.5" y="397" font-size="12.8" textLength="63.5" lengthAdjust="spacingAndGlyphs">ΤΠΝΟΔΩΜΑΤΙΟ</text>
<line x1="293.5" y1="385" x2="293.5" y2="460"/>
<line x1="297.5" y1="385" x2="297.5" y2="460"/>
<line x1="293" y1="385.5" x2="297" y2="385.5"/>
<rect x="270.5" y="400.5" width="22" height="51"/>
<line x1="281.5" y1="400.5" x2="281.5" y2="451" stroke-dasharray="6 3"/>
<rect x="257.5" y="422.5" width="13" height="20"/>
<line x1="259.5" y1="422.5" x2="259.5" y2="442"/>
<line x1="145" y1="444.5" x2="594" y2="444.5"/>
<line x1="156.5" y1="439.5" x2="156.5" y2="449.5"/>
<line x1="152" y1="449" x2="161" y2="440" stroke-width="1.5"/>
<line x1="149.5" y1="444.5" x2="163.5" y2="444.5" stroke-width="1.8"/>
<line x1="166.5" y1="439.5" x2="166.5" y2="449.5"/>
<line x1="162" y1="449" x2="171" y2="440" stroke-width="1.5"/>
<line x1="159.5" y1="444.5" x2="173.5" y2="444.5" stroke-width="1.8"/>
<line x1="293.5" y1="439.5" x2="293.5" y2="449.5"/>
<line x1="288.5" y1="449" x2="297.5" y2="440" stroke-width="1.5"/>
<line x1="286" y1="444.5" x2="300" y2="444.5" stroke-width="1.8"/>
<line x1="297.5" y1="439.5" x2="297.5" y2="449.5"/>
<line x1="292.5" y1="449" x2="301.5" y2="440" stroke-width="1.5"/>
<line x1="290" y1="444.5" x2="304" y2="444.5" stroke-width="1.8"/>
<line x1="417.5" y1="439.5" x2="417.5" y2="449.5"/>
<line x1="413" y1="449" x2="422" y2="440" stroke-width="1.5"/>
<line x1="410.5" y1="444.5" x2="424.5" y2="444.5" stroke-width="1.8"/>
<line x1="427.5" y1="439.5" x2="427.5" y2="449.5"/>
<line x1="422.5" y1="449" x2="431.5" y2="440" stroke-width="1.5"/>
<line x1="420" y1="444.5" x2="434" y2="444.5" stroke-width="1.8"/>
<line x1="581.5" y1="439.5" x2="581.5" y2="449.5"/>
<line x1="577" y1="449" x2="586" y2="440" stroke-width="1.5"/>
<line x1="574.5" y1="444.5" x2="588.5" y2="444.5" stroke-width="1.8"/>
<line x1="585.5" y1="439.5" x2="585.5" y2="449.5"/>
<line x1="581" y1="449" x2="590" y2="440" stroke-width="1.5"/>
<line x1="578.5" y1="444.5" x2="592.5" y2="444.5" stroke-width="1.8"/>
<text class="n" x="174" y="441.8" font-size="12.6" text-anchor="middle" textLength="13.4" lengthAdjust="spacingAndGlyphs">.25</text>
<text class="n" x="229" y="441.8" font-size="12.6" text-anchor="middle" textLength="18.8" lengthAdjust="spacingAndGlyphs">3.35</text>
<text class="n" x="284.5" y="441.8" font-size="12.6" text-anchor="middle" textLength="13.4" lengthAdjust="spacingAndGlyphs">.10</text>
<text class="n" x="357" y="441.8" font-size="12.6" text-anchor="middle" textLength="18.8" lengthAdjust="spacingAndGlyphs">3.20</text>
<text class="n" x="437" y="441.8" font-size="12.6" text-anchor="middle" textLength="13.4" lengthAdjust="spacingAndGlyphs">.25</text>
<text class="n" x="519" y="441.8" font-size="12.6" text-anchor="middle" textLength="18.8" lengthAdjust="spacingAndGlyphs">4.10</text>
<text class="n" x="572.5" y="441.8" font-size="12.6" text-anchor="middle" textLength="13.4" lengthAdjust="spacingAndGlyphs">.10</text>
<text class="n" x="606" y="441.3" font-size="12.6" text-anchor="middle" textLength="18.8" lengthAdjust="spacingAndGlyphs">1.95</text>
<line x1="166.5" y1="460.5" x2="297" y2="460.5"/>
<rect x="167.5" y="461.5" width="54" height="21"/>
<rect x="169.5" y="463.5" width="50" height="19"/>
<line x1="169" y1="463" x2="219" y2="481"/>
<line x1="221.5" y1="460.5" x2="221.5" y2="482.5"/>
<path d="M166.5 481.5 L145.5 481.5 L145.5 492.5 L221.5 492.5"/>
<line x1="166.5" y1="482.5" x2="230.5" y2="482.5"/>
<text class="n" font-size="12.6" text-anchor="middle" textLength="13.4" lengthAdjust="spacingAndGlyphs" transform="translate(200.7 471) rotate(-90)">.60</text>
<text class="n" font-size="12.6" text-anchor="middle" textLength="13.4" lengthAdjust="spacingAndGlyphs" transform="translate(200.7 498) rotate(-90)">.25</text>
<line x1="199.5" y1="460.5" x2="211.5" y2="460.5" stroke-width="1.8"/>
<line x1="201" y1="456" x2="210" y2="465" stroke-width="1.5"/>
<line x1="199.5" y1="482.5" x2="211.5" y2="482.5" stroke-width="1.8"/>
<line x1="201" y1="478" x2="210" y2="487" stroke-width="1.5"/>
<line x1="200.5" y1="492.5" x2="210.5" y2="492.5"/>
<line x1="201" y1="488" x2="210" y2="497" stroke-width="1.5"/>
<line x1="302.5" y1="160.5" x2="427.5" y2="160.5"/>
<line x1="302.5" y1="169.5" x2="418" y2="169.5"/>
<line x1="427.5" y1="160.5" x2="427.5" y2="183"/>
<line x1="418.5" y1="169.5" x2="418.5" y2="325"/>
<line x1="427.5" y1="191.5" x2="427.5" y2="478"/>
<rect x="418.5" y="175.5" width="9" height="30" style="fill:url(#ht);stroke:none"/>
<line x1="309.5" y1="160.5" x2="370" y2="160.5"/>
<line x1="309.5" y1="169.5" x2="370" y2="169.5"/>
<line x1="309.5" y1="163.5" x2="370" y2="163.5"/>
<line x1="309.5" y1="166.5" x2="370" y2="166.5"/>
<line x1="309.5" y1="160.5" x2="309.5" y2="169.5"/>
<line x1="370.5" y1="160.5" x2="370.5" y2="169.5"/>
<line x1="340.5" y1="157.5" x2="340.5" y2="172.5"/>
<line x1="372.5" y1="160.5" x2="372.5" y2="169.5"/>
<line x1="385.5" y1="148" x2="385.5" y2="765"/>
<line x1="378.5" y1="160.5" x2="392.5" y2="160.5" stroke-width="1.8"/>
<line x1="381" y1="156" x2="390" y2="165" stroke-width="1.5"/>
<line x1="378.5" y1="169.5" x2="392.5" y2="169.5" stroke-width="1.8"/>
<line x1="381" y1="165" x2="390" y2="174" stroke-width="1.5"/>
<text class="n" font-size="12.6" text-anchor="middle" textLength="13.4" lengthAdjust="spacingAndGlyphs" transform="translate(380.7 150) rotate(-90)">.25</text>
<rect x="375.5" y="169.5" width="39" height="73"/>
<rect x="381.5" y="172.5" width="26" height="14" rx="1.5"/>
<rect x="357.5" y="171.5" width="15" height="15"/>
<path d="M375 190 Q395 188 415 196"/>
<path d="M375 190 Q399 196 406 207"/>
<path d="M415 196 Q407 199 406 207"/>
<rect x="297.5" y="187.5" width="22" height="64"/>
<line x1="308.5" y1="187.5" x2="308.5" y2="251" stroke-dasharray="6 3"/>
<rect x="319.5" y="205.5" width="13" height="20"/>
<line x1="330.5" y1="205" x2="330.5" y2="225"/>
<text class="n" font-size="12.6" text-anchor="middle" textLength="18.8" lengthAdjust="spacingAndGlyphs" transform="translate(380.7 241) rotate(-90)">3.40</text>
<text class="r" x="308" y="268.5" font-size="12.8" textLength="63.5" lengthAdjust="spacingAndGlyphs">ΤΠΝΟΔΩΜΑΤΙΟ</text>
<path d="M302.5 268.5 A34 34 0 0 1 336.5 302.5"/>
<path d="M302.5 302.5 L302.5 268.5 L305.5 268.5 L305.5 302.5 Z"/>
<line x1="335.5" y1="298" x2="335.5" y2="325"/>
<line x1="339.5" y1="298" x2="339.5" y2="325"/>
<line x1="335.5" y1="302.5" x2="339.5" y2="302.5"/>
<rect x="339.5" y="298.5" width="78" height="23"/>
<rect x="343.5" y="298.5" width="72" height="21"/>
<line x1="343.5" y1="298" x2="415" y2="319"/>
<line x1="335.5" y1="325.5" x2="418" y2="325.5"/>
<line x1="379.5" y1="298.5" x2="391.5" y2="298.5" stroke-width="1.8"/>
<line x1="381" y1="293.5" x2="390" y2="302.5" stroke-width="1.5"/>
<line x1="379.5" y1="321.5" x2="391.5" y2="321.5" stroke-width="1.8"/>
<line x1="381" y1="316.5" x2="390" y2="325.5" stroke-width="1.5"/>
<text class="n" font-size="12.6" text-anchor="middle" textLength="13.4" lengthAdjust="spacingAndGlyphs" transform="translate(380.7 310) rotate(-90)">.60</text>
<text class="n" font-size="12.6" text-anchor="middle" textLength="13.4" lengthAdjust="spacingAndGlyphs" transform="translate(380.7 331.5) rotate(-90)">.10</text>
<line x1="338.5" y1="325" x2="338.5" y2="375"/>
<line x1="342.5" y1="325" x2="342.5" y2="375"/>
<rect x="346.5" y="325.5" width="22" height="14"/>
<rect x="349.5" y="327.5" width="16" height="10"/>
<line x1="357.5" y1="328" x2="357.5" y2="335" stroke-width="1.5"/>
<line x1="402.5" y1="325" x2="402.5" y2="412"/>
<line x1="406.5" y1="325" x2="406.5" y2="412"/>
<rect x="406.5" y="325.5" width="11" height="43"/>
<line x1="406" y1="325" x2="417.5" y2="368"/>
<line x1="417.5" y1="325" x2="406" y2="368"/>
<rect x="406.5" y="368.5" width="11" height="44"/>
<line x1="406" y1="368" x2="417.5" y2="412"/>
<line x1="417.5" y1="368" x2="406" y2="412"/>
<line x1="381" y1="347.5" x2="397.5" y2="327.5"/>
<circle cx="397.5" cy="327.5" r="1" style="fill:#000"/>
<line x1="399.5" y1="330" x2="399.5" y2="363"/>
<line x1="330" y1="367.5" x2="420" y2="367.5"/>
<line x1="338.5" y1="362.5" x2="338.5" y2="372.5"/>
<line x1="333.5" y1="372" x2="342.5" y2="363" stroke-width="1.5"/>
<line x1="332" y1="367.5" x2="344" y2="367.5" stroke-width="1.8"/>
<line x1="342.5" y1="362.5" x2="342.5" y2="372.5"/>
<line x1="337.5" y1="372" x2="346.5" y2="363" stroke-width="1.5"/>
<line x1="336" y1="367.5" x2="348" y2="367.5" stroke-width="1.8"/>
<line x1="402.5" y1="362.5" x2="402.5" y2="372.5"/>
<line x1="398" y1="372" x2="407" y2="363" stroke-width="1.5"/>
<line x1="396.5" y1="367.5" x2="408.5" y2="367.5" stroke-width="1.8"/>
<line x1="406.5" y1="362.5" x2="406.5" y2="372.5"/>
<line x1="401.5" y1="372" x2="410.5" y2="363" stroke-width="1.5"/>
<line x1="400" y1="367.5" x2="412" y2="367.5" stroke-width="1.8"/>
<text class="n" x="330" y="364.8" font-size="12.6" text-anchor="middle" textLength="13.4" lengthAdjust="spacingAndGlyphs">.10</text>
<text class="n" x="372" y="364.8" font-size="12.6" text-anchor="middle" textLength="18.8" lengthAdjust="spacingAndGlyphs">1.60</text>
<text class="n" x="394" y="364.8" font-size="12.6" text-anchor="middle" textLength="13.4" lengthAdjust="spacingAndGlyphs">.10</text>
<text class="n" x="413" y="364.8" font-size="12.6" text-anchor="middle" textLength="13.4" lengthAdjust="spacingAndGlyphs">.30</text>
<text class="n" font-size="12.6" text-anchor="middle" textLength="18.8" lengthAdjust="spacingAndGlyphs" transform="translate(380.7 381) rotate(-90)">2.20</text>
<text class="n" font-size="12.6" text-anchor="middle" textLength="13.4" lengthAdjust="spacingAndGlyphs" transform="translate(380.7 422) rotate(-90)">.20</text>
<g transform="translate(351.5 386.5) scale(1 1)">
<path d="M-1.68 -9.55 A9.7 9.7 0 1 0 9.66 -0.85" stroke-width="1.1"/>
<path d="M-1.39 -7.88 A8 8 0 1 0 7.97 -0.7"/>
<circle cx="1.8" cy="-16.6" r="2.4"/>
<path d="M1 -14 L1.5 -3.5 L10 -3.5 L13.8 4.8 L17.8 2.5" stroke-width="2.2"/>
<path d="M1 -14 L1.5 -3.5 L10 -3.5 L13.8 4.8 L17.8 2.5" stroke-width="0.7" stroke="#fff"/>
<line x1="2.4" y1="-8.9" x2="8.8" y2="-8.9" stroke-width="2.5"/>
</g>
<path d="M339.5 374 A36 36 0 0 1 375.36 406.86"/>
<text class="n" x="346" y="408.3" font-size="12.6" textLength="14" lengthAdjust="spacingAndGlyphs">T.E</text>
<line x1="297" y1="412.5" x2="338.5" y2="412.5"/>
<line x1="297" y1="414.5" x2="338.5" y2="414.5"/>
<rect x="338.5" y="409.5" width="34" height="7"/>
<line x1="338.5" y1="413.5" x2="372.5" y2="413.5" stroke-width="2" stroke-dasharray="5 2"/>
<rect x="297.5" y="409.5" width="3" height="9"/>
<line x1="372.5" y1="405" x2="372.5" y2="420"/>
<line x1="372.5" y1="412.5" x2="417.5" y2="412.5"/>
<line x1="372.5" y1="415.5" x2="417.5" y2="415.5"/>
<ellipse cx="393" cy="397" rx="6.5" ry="7.5"/>
<line x1="386" y1="405.5" x2="400" y2="405.5"/>
<rect x="297.5" y="449.5" width="41" height="11"/>
<rect x="298.5" y="450.5" width="38" height="8"/>
<line x1="298.5" y1="450" x2="336.5" y2="458.5"/>
<rect x="338.5" y="447.5" width="3" height="44"/>
<line x1="341.5" y1="491" x2="341.5" y2="547.5" stroke-dasharray="7 4"/>
<circle cx="368.5" cy="462.5" r="12"/>
<text class="n" x="368.5" y="467.8" font-size="13" text-anchor="middle" textLength="19" lengthAdjust="spacingAndGlyphs">201</text>
<text class="n" font-size="12.6" text-anchor="middle" textLength="18.8" lengthAdjust="spacingAndGlyphs" transform="translate(380.7 497.5) rotate(-90)">5.90</text>
<rect x="231.5" y="464.5" width="84" height="23"/>
<rect x="232.5" y="466.5" width="34" height="19"/>
<rect x="236.5" y="468.5" width="13" height="15" rx="2.5"/>
<line x1="256.65" y1="467.5" x2="262.85" y2="467.5" stroke-width="1.5"/>
<line x1="255.75" y1="469.5" x2="263.75" y2="469.5" stroke-width="1.5"/>
<line x1="254.85" y1="472.5" x2="264.65" y2="472.5" stroke-width="1.5"/>
<line x1="253.95" y1="474.5" x2="265.55" y2="474.5" stroke-width="1.5"/>
<line x1="253.95" y1="476.5" x2="265.55" y2="476.5" stroke-width="1.5"/>
<line x1="254.85" y1="479.5" x2="264.65" y2="479.5" stroke-width="1.5"/>
<line x1="255.75" y1="481.5" x2="263.75" y2="481.5" stroke-width="1.5"/>
<line x1="256.65" y1="483.5" x2="262.85" y2="483.5" stroke-width="1.5"/>
<line x1="259.5" y1="467" x2="259.5" y2="485" stroke="#555"/>
<circle cx="242" cy="472" r="1.3" style="fill:#000"/>
<line x1="239.5" y1="472.5" x2="244.5" y2="472.5"/>
<line x1="242.5" y1="469.5" x2="242.5" y2="474.5"/>
<rect x="286.5" y="466.5" width="19" height="19"/>
<circle cx="290.75" cy="470.6" r="3.1" stroke-width="1.5"/>
<circle cx="290.75" cy="470.6" r="1.2" style="fill:#000"/>
<line x1="287.75" y1="470.5" x2="293.75" y2="470.5"/>
<line x1="290.5" y1="467.6" x2="290.5" y2="473.6"/>
<circle cx="290.75" cy="480.6" r="3.1" stroke-width="1.5"/>
<circle cx="290.75" cy="480.6" r="1.2" style="fill:#000"/>
<line x1="287.75" y1="480.5" x2="293.75" y2="480.5"/>
<line x1="290.5" y1="477.6" x2="290.5" y2="483.6"/>
<circle cx="300.75" cy="470.6" r="3.1" stroke-width="1.5"/>
<circle cx="300.75" cy="470.6" r="1.2" style="fill:#000"/>
<line x1="297.75" y1="470.5" x2="303.75" y2="470.5"/>
<line x1="300.5" y1="467.6" x2="300.5" y2="473.6"/>
<circle cx="300.75" cy="480.6" r="3.1" stroke-width="1.5"/>
<circle cx="300.75" cy="480.6" r="1.2" style="fill:#000"/>
<line x1="297.75" y1="480.5" x2="303.75" y2="480.5"/>
<line x1="300.5" y1="477.6" x2="300.5" y2="483.6"/>
<rect x="316.5" y="465.5" width="21" height="22"/>
<line x1="318" y1="488.5" x2="336" y2="488.5"/>
<line x1="232" y1="477.5" x2="316" y2="477.5" stroke="#666" stroke-dasharray="8 4"/>
<text class="r" x="286" y="505" font-size="12.8" textLength="38" lengthAdjust="spacingAndGlyphs">ΚΟΤΖΙΝΑ</text>
<text class="n" x="286" y="517.8" font-size="12.6" textLength="18.8" lengthAdjust="spacingAndGlyphs">2.85</text>
<line x1="280.5" y1="452.5" x2="280.5" y2="648.5"/>
<text class="n" font-size="12.6" text-anchor="middle" textLength="18.8" lengthAdjust="spacingAndGlyphs" transform="translate(276.7 507.5) rotate(-90)">1.10</text>
<text class="n" font-size="12.6" text-anchor="middle" textLength="13.4" lengthAdjust="spacingAndGlyphs" transform="translate(276.7 473) rotate(-90)">.60</text>
<text class="n" font-size="12.6" text-anchor="middle" textLength="13.4" lengthAdjust="spacingAndGlyphs" transform="translate(276.7 452) rotate(-90)">.10</text>
<text class="n" font-size="12.6" text-anchor="middle" textLength="18.8" lengthAdjust="spacingAndGlyphs" transform="translate(276.7 591) rotate(-90)">2.50</text>
<text class="n" font-size="12.6" text-anchor="middle" textLength="13.4" lengthAdjust="spacingAndGlyphs" transform="translate(276.7 536) rotate(-90)">.40</text>
<line x1="275" y1="460.5" x2="285" y2="460.5"/>
<line x1="275.5" y1="456" x2="284.5" y2="465" stroke-width="1.5"/>
<line x1="275" y1="486.5" x2="285" y2="486.5"/>
<line x1="275.5" y1="481.5" x2="284.5" y2="490.5" stroke-width="1.5"/>
<line x1="275" y1="523.5" x2="285" y2="523.5"/>
<line x1="275.5" y1="519" x2="284.5" y2="528" stroke-width="1.5"/>
<line x1="275" y1="529.5" x2="285" y2="529.5"/>
<line x1="275.5" y1="524.5" x2="284.5" y2="533.5" stroke-width="1.5"/>
<line x1="275" y1="544.5" x2="285" y2="544.5"/>
<line x1="275.5" y1="539.5" x2="284.5" y2="548.5" stroke-width="1.5"/>
<line x1="274" y1="642.5" x2="286" y2="642.5" stroke-width="1.8"/>
<line x1="275.5" y1="637.5" x2="284.5" y2="646.5" stroke-width="1.5"/>
<line x1="230.5" y1="486" x2="230.5" y2="523.5"/>
<line x1="230.5" y1="486.5" x2="231" y2="486.5"/>
<line x1="147.5" y1="523.5" x2="532.5" y2="523.5"/>
<line x1="152.5" y1="518.5" x2="152.5" y2="528.5"/>
<line x1="147.5" y1="528" x2="156.5" y2="519" stroke-width="1.5"/>
<line x1="146" y1="523.5" x2="158" y2="523.5" stroke-width="1.8"/>
<line x1="157.5" y1="518.5" x2="157.5" y2="528.5"/>
<line x1="152.5" y1="528" x2="161.5" y2="519" stroke-width="1.5"/>
<line x1="151" y1="523.5" x2="163" y2="523.5" stroke-width="1.8"/>
<line x1="161.5" y1="518.5" x2="161.5" y2="528.5"/>
<line x1="157" y1="528" x2="166" y2="519" stroke-width="1.5"/>
<line x1="155.5" y1="523.5" x2="167.5" y2="523.5" stroke-width="1.8"/>
<line x1="221.5" y1="518.5" x2="221.5" y2="528.5"/>
<line x1="217" y1="528" x2="226" y2="519" stroke-width="1.5"/>
<line x1="215.5" y1="523.5" x2="227.5" y2="523.5" stroke-width="1.8"/>
<line x1="230.5" y1="518.5" x2="230.5" y2="528.5"/>
<line x1="226" y1="528" x2="235" y2="519" stroke-width="1.5"/>
<line x1="224.5" y1="523.5" x2="236.5" y2="523.5" stroke-width="1.8"/>
<line x1="339.5" y1="518.5" x2="339.5" y2="528.5"/>
<line x1="335" y1="528" x2="344" y2="519" stroke-width="1.5"/>
<line x1="333.5" y1="523.5" x2="345.5" y2="523.5" stroke-width="1.8"/>
<line x1="521.5" y1="518.5" x2="521.5" y2="528.5"/>
<line x1="517" y1="528" x2="526" y2="519" stroke-width="1.5"/>
<line x1="515.5" y1="523.5" x2="527.5" y2="523.5" stroke-width="1.8"/>
<text class="n" x="144" y="519.8" font-size="12.6" text-anchor="middle" textLength="13.4" lengthAdjust="spacingAndGlyphs">.15</text>
<text class="n" x="169" y="519.8" font-size="12.6" text-anchor="middle" textLength="13.4" lengthAdjust="spacingAndGlyphs">.10</text>
<text class="n" x="191" y="519.8" font-size="12.6" text-anchor="middle" textLength="18.8" lengthAdjust="spacingAndGlyphs">1.60</text>
<text class="n" x="241" y="519.8" font-size="12.6" text-anchor="middle" textLength="13.4" lengthAdjust="spacingAndGlyphs">.25</text>
<text class="n" x="340" y="520.3" font-size="12.6" text-anchor="middle" textLength="13.4" lengthAdjust="spacingAndGlyphs">.10</text>
<text class="n" x="400" y="519.3" font-size="12.6" text-anchor="middle" textLength="18.8" lengthAdjust="spacingAndGlyphs">4.75</text>
<line x1="230.5" y1="529.5" x2="339" y2="529.5"/>
<line x1="230.5" y1="544.5" x2="339" y2="544.5"/>
<line x1="339.5" y1="529" x2="339.5" y2="544"/>
<line x1="230.5" y1="547.5" x2="341.5" y2="547.5" stroke-dasharray="7 4"/>
<line x1="221.5" y1="492.5" x2="221.5" y2="578.5"/>
<line x1="230.5" y1="523.5" x2="230.5" y2="578.5"/>
<line x1="152.5" y1="492.5" x2="152.5" y2="578" stroke-width="3.6" stroke="#8a8a8a"/>
<line x1="157.5" y1="492.5" x2="157.5" y2="578"/>
<line x1="160.5" y1="492.5" x2="160.5" y2="549.5"/>
<line x1="172.5" y1="492.5" x2="172.5" y2="549.5"/>
<line x1="186.5" y1="492.5" x2="186.5" y2="549.5"/>
<line x1="202.5" y1="492.5" x2="202.5" y2="549.5"/>
<line x1="217.5" y1="492.5" x2="217.5" y2="549.5"/>
<line x1="157" y1="505.5" x2="221.5" y2="505.5"/>
<line x1="157" y1="519.5" x2="221.5" y2="519.5"/>
<line x1="157" y1="534.5" x2="221.5" y2="534.5"/>
<line x1="160.5" y1="549.5" x2="221.5" y2="549.5" stroke-width="1.6"/>
<line x1="160.5" y1="549.5" x2="160.5" y2="578"/>
<line x1="162" y1="576.7" x2="221" y2="551.5"/>
<circle cx="210.6" cy="565.4" r="5.5"/>
<path d="M203.5 493.5 A26.5 26.5 0 0 0 221.81 518.7"/>
<line x1="203.5" y1="494.5" x2="230" y2="494.5" stroke-width="2.4" stroke="#777"/>
<text class="n" font-size="12.6" text-anchor="middle" textLength="18.8" lengthAdjust="spacingAndGlyphs" transform="translate(200.7 539) rotate(-90)">1.55</text>
<text class="n" font-size="12.6" text-anchor="middle" textLength="13.4" lengthAdjust="spacingAndGlyphs" transform="translate(200.7 563) rotate(-90)">.70</text>
<text class="n" font-size="12.6" text-anchor="middle" textLength="13.4" lengthAdjust="spacingAndGlyphs" transform="translate(200.7 595) rotate(-90)">.30</text>
<line x1="200.5" y1="550.5" x2="210.5" y2="550.5"/>
<line x1="201" y1="545.5" x2="210" y2="554.5" stroke-width="1.5"/>
<line x1="200.5" y1="578.5" x2="210.5" y2="578.5"/>
<line x1="201" y1="574" x2="210" y2="583" stroke-width="1.5"/>
<line x1="200.5" y1="588.5" x2="210.5" y2="588.5"/>
<line x1="201" y1="584" x2="210" y2="593" stroke-width="1.5"/>
<path d="M157.5 578.5 L145.5 578.5 L145.5 589.5 L230.5 589.5"/>
<line x1="157" y1="578.5" x2="230.5" y2="578.5"/>
<rect x="156.5" y="578.5" width="30" height="11" style="fill:url(#ht);stroke:none"/>
<rect x="201.5" y="578.5" width="29" height="11" style="fill:url(#ht);stroke:none"/>
<rect x="258.5" y="573.5" width="69" height="35"/>
<rect x="266.5" y="566.5" width="13" height="7"/>
<path d="M266 566.5 Q272.5 563.5 279 566.5" stroke-width="1.6"/>
<rect x="266.5" y="608.5" width="13" height="7"/>
<path d="M266 615 Q272.5 618 279 615" stroke-width="1.6"/>
<rect x="286.5" y="566.5" width="13" height="7"/>
<path d="M286 566.5 Q292.5 563.5 299 566.5" stroke-width="1.6"/>
<rect x="286.5" y="608.5" width="13" height="7"/>
<path d="M286 615 Q292.5 618 299 615" stroke-width="1.6"/>
<rect x="305.5" y="566.5" width="13" height="7"/>
<path d="M305.5 566.5 Q312 563.5 318.5 566.5" stroke-width="1.6"/>
<rect x="305.5" y="608.5" width="13" height="7"/>
<path d="M305.5 615 Q312 618 318.5 615" stroke-width="1.6"/>
<rect x="251.5" y="584.5" width="7" height="13"/>
<path d="M251.5 584.5 Q248.5 591 251.5 597.5" stroke-width="1.6"/>
<rect x="327.5" y="584.5" width="8" height="13"/>
<path d="M335 584.5 Q338 591 335 597.5" stroke-width="1.6"/>
<rect x="383.5" y="528.5" width="18" height="24"/>
<path d="M389 528 A9 12.25 0 0 0 389 552.5" stroke-width="1.8"/>
<path d="M391 530 A7 10.25 0 0 0 391 550.5"/>
<rect x="383.5" y="570.5" width="18" height="25"/>
<path d="M389 570.5 A9 12.25 0 0 0 389 595" stroke-width="1.8"/>
<path d="M391 572.5 A7 10.25 0 0 0 391 593"/>
<rect x="422.5" y="536.5" width="38" height="38"/>
<text class="r" x="425" y="565" font-size="12.8" textLength="33" lengthAdjust="spacingAndGlyphs">ΣΑΛΟΝΙ</text>
<path d="M413.5 482.5 L518.5 482.5 L518.5 595.5 L485.5 595.5 L485.5 515.5 L413.5 515.5 Z"/>
<line x1="449.5" y1="482" x2="449.5" y2="515.5"/>
<line x1="485" y1="515.5" x2="513" y2="515.5"/>
<line x1="485.5" y1="482" x2="485.5" y2="515.5"/>
<line x1="449" y1="487.5" x2="513" y2="487.5"/>
<line x1="513.5" y1="487" x2="513.5" y2="590"/>
<line x1="485" y1="553.5" x2="513" y2="553.5"/>
<line x1="487" y1="590.5" x2="513" y2="590.5"/>
<line x1="487.5" y1="553" x2="487.5" y2="595"/>
<g transform="translate(462 494) rotate(-25)">
<rect x="-6.5" y="-4.5" width="13" height="10" rx="1.5"/>
<rect x="-1.5" y="-1.5" width="12" height="9" rx="1.5"/>
</g>
<g transform="translate(496 494) rotate(20)">
<rect x="-6.5" y="-4.5" width="13" height="10" rx="1.5"/>
<rect x="-1.5" y="-1.5" width="12" height="9" rx="1.5"/>
</g>
<g transform="translate(503 580) rotate(-65)">
<rect x="-6.5" y="-4.5" width="13" height="10" rx="1.5"/>
<rect x="-1.5" y="-1.5" width="12" height="9" rx="1.5"/>
</g>
<text class="n" font-size="12.6" text-anchor="middle" textLength="18.8" lengthAdjust="spacingAndGlyphs" transform="translate(497.7 557.5) rotate(-90)">4.25</text>
<line x1="502.5" y1="172.5" x2="502.5" y2="650"/>
<line x1="496" y1="478.5" x2="508" y2="478.5" stroke-width="1.8"/>
<line x1="497.5" y1="473.5" x2="506.5" y2="482.5" stroke-width="1.5"/>
<line x1="496" y1="469.5" x2="508" y2="469.5" stroke-width="1.8"/>
<line x1="497.5" y1="464.5" x2="506.5" y2="473.5" stroke-width="1.5"/>
<line x1="496" y1="397.5" x2="508" y2="397.5" stroke-width="1.8"/>
<line x1="497.5" y1="393" x2="506.5" y2="402" stroke-width="1.5"/>
<line x1="496" y1="406.5" x2="508" y2="406.5" stroke-width="1.8"/>
<line x1="497.5" y1="401.5" x2="506.5" y2="410.5" stroke-width="1.5"/>
<text class="n" font-size="12.6" text-anchor="middle" textLength="18.8" lengthAdjust="spacingAndGlyphs" transform="translate(497.7 352.5) rotate(-90)">2.05</text>
<text class="n" font-size="12.6" text-anchor="middle" textLength="13.4" lengthAdjust="spacingAndGlyphs" transform="translate(497.7 400) rotate(-90)">.25</text>
<text class="n" font-size="12.6" text-anchor="middle" textLength="18.8" lengthAdjust="spacingAndGlyphs" transform="translate(497.7 431) rotate(-90)">1.65</text>
<text class="n" font-size="12.6" text-anchor="middle" textLength="13.4" lengthAdjust="spacingAndGlyphs" transform="translate(497.7 456) rotate(-90)">.25</text>
<text class="n" font-size="12.6" text-anchor="middle" textLength="13.4" lengthAdjust="spacingAndGlyphs" transform="translate(497.7 626) rotate(-90)">.25</text>
<text class="n" font-size="12.6" text-anchor="middle" textLength="13.4" lengthAdjust="spacingAndGlyphs" transform="translate(380.7 626) rotate(-90)">.25</text>
<line x1="497" y1="638.5" x2="507" y2="638.5" stroke-width="1.8"/>
<line x1="497.5" y1="633.5" x2="506.5" y2="642.5" stroke-width="1.5"/>
<line x1="497" y1="648.5" x2="507" y2="648.5" stroke-width="1.8"/>
<line x1="497.5" y1="643.5" x2="506.5" y2="652.5" stroke-width="1.5"/>
<line x1="380.5" y1="638.5" x2="390.5" y2="638.5" stroke-width="1.8"/>
<line x1="381" y1="633.5" x2="390" y2="642.5" stroke-width="1.5"/>
<line x1="380.5" y1="648.5" x2="390.5" y2="648.5" stroke-width="1.8"/>
<line x1="381" y1="643.5" x2="390" y2="652.5" stroke-width="1.5"/>
<rect x="443.5" y="621.5" width="76" height="16"/>
<path d="M446 631 L488.5 631 L484 635 L450 635 Z" style="fill:#000"/>
<line x1="456" y1="636.5" x2="478" y2="636.5" stroke-width="1.5"/>
<line x1="521.5" y1="478" x2="521.5" y2="782"/>
<line x1="531.5" y1="469" x2="531.5" y2="522"/>
<line x1="510" y1="545.5" x2="540" y2="545.5"/>
<line x1="521.5" y1="540" x2="521.5" y2="550"/>
<line x1="517" y1="549.5" x2="526" y2="540.5" stroke-width="1.5"/>
<line x1="516.5" y1="545.5" x2="526.5" y2="545.5" stroke-width="1.8"/>
<line x1="531.5" y1="540" x2="531.5" y2="550"/>
<line x1="526.5" y1="549.5" x2="535.5" y2="540.5" stroke-width="1.5"/>
<line x1="526" y1="545.5" x2="536" y2="545.5" stroke-width="1.8"/>
<text class="n" x="541" y="541.8" font-size="12.6" text-anchor="middle" textLength="13.4" lengthAdjust="spacingAndGlyphs">.25</text>
<line x1="230.5" y1="638.5" x2="521.5" y2="638.5"/>
<line x1="226" y1="642.5" x2="438.5" y2="642.5"/>
<line x1="220.5" y1="648.5" x2="521.5" y2="648.5"/>
<rect x="438.5" y="638.5" width="83" height="10"/>
<line x1="220.5" y1="589" x2="220.5" y2="648"/>
<line x1="226.5" y1="589" x2="226.5" y2="642.5"/>
<line x1="230.5" y1="589" x2="230.5" y2="638"/>
<line x1="312.5" y1="635" x2="312.5" y2="651"/>
<line x1="335.5" y1="635" x2="335.5" y2="651"/>
<rect x="521.5" y="638.5" width="10" height="29" style="fill:url(#ht);stroke:none"/>
<line x1="427.5" y1="183.5" x2="522" y2="183.5"/>
<line x1="427.5" y1="191.5" x2="522" y2="191.5"/>
<line x1="478.5" y1="183" x2="478.5" y2="319"/>
<line x1="519.5" y1="183" x2="519.5" y2="191.5"/>
<line x1="478.5" y1="186.5" x2="519.5" y2="186.5"/>
<line x1="478.5" y1="188.5" x2="519.5" y2="188.5"/>
<line x1="496" y1="183.5" x2="508" y2="183.5" stroke-width="1.8"/>
<line x1="497.5" y1="178.5" x2="506.5" y2="187.5" stroke-width="1.5"/>
<line x1="496" y1="191.5" x2="508" y2="191.5" stroke-width="1.8"/>
<line x1="497.5" y1="187" x2="506.5" y2="196" stroke-width="1.5"/>
<line x1="496" y1="236.5" x2="508" y2="236.5" stroke-width="1.8"/>
<line x1="497.5" y1="231.5" x2="506.5" y2="240.5" stroke-width="1.5"/>
<line x1="496" y1="319.5" x2="508" y2="319.5" stroke-width="1.8"/>
<line x1="497.5" y1="314.5" x2="506.5" y2="323.5" stroke-width="1.5"/>
<text class="n" font-size="12.6" text-anchor="middle" textLength="13.4" lengthAdjust="spacingAndGlyphs" transform="translate(497.7 173) rotate(-90)">.25</text>
<text class="n" font-size="12.6" text-anchor="middle" textLength="18.8" lengthAdjust="spacingAndGlyphs" transform="translate(497.7 216.5) rotate(-90)">1.15</text>
<text class="n" font-size="12.6" text-anchor="middle" textLength="18.8" lengthAdjust="spacingAndGlyphs" transform="translate(497.7 294.5) rotate(-90)">2.20</text>
<path d="M449.5 319.5 L449.5 212.5 L502.5 212.5"/>
<line x1="470.5" y1="236" x2="470.5" y2="319"/>
<line x1="427.5" y1="236.5" x2="470.5" y2="236.5"/>
<line x1="478.5" y1="236.5" x2="522" y2="236.5"/>
<line x1="427.5" y1="247.5" x2="470.5" y2="247.5"/>
<line x1="478.5" y1="247.5" x2="522" y2="247.5"/>
<line x1="427.5" y1="257.5" x2="470.5" y2="257.5"/>
<line x1="478.5" y1="257.5" x2="522" y2="257.5"/>
<line x1="427.5" y1="267.5" x2="470.5" y2="267.5"/>
<line x1="478.5" y1="267.5" x2="522" y2="267.5"/>
<line x1="427.5" y1="278.5" x2="470.5" y2="278.5"/>
<line x1="478.5" y1="278.5" x2="522" y2="278.5"/>
<line x1="427.5" y1="288.5" x2="470.5" y2="288.5"/>
<line x1="478.5" y1="288.5" x2="522" y2="288.5"/>
<line x1="427.5" y1="298.5" x2="470.5" y2="298.5"/>
<line x1="478.5" y1="298.5" x2="522" y2="298.5"/>
<line x1="427.5" y1="309.5" x2="470.5" y2="309.5"/>
<line x1="478.5" y1="309.5" x2="522" y2="309.5"/>
<line x1="427.5" y1="319.5" x2="470.5" y2="319.5"/>
<line x1="478.5" y1="319.5" x2="522" y2="319.5"/>
<path d="M470.5 290.5 L496.5 274.5 L494.5 268.5 L499.5 272.5 L530.5 256.5"/>
<path d="M442.5 319.5 L449.5 324.5 L456.5 319.5"/>
<text class="n" x="452" y="252.3" font-size="12.6" text-anchor="middle" textLength="18.8" lengthAdjust="spacingAndGlyphs">1.15</text>
<text class="n" x="474.5" y="252.3" font-size="12.6" text-anchor="middle" textLength="13.4" lengthAdjust="spacingAndGlyphs">.20</text>
<text class="n" x="490" y="252.3" font-size="12.6" text-anchor="middle" textLength="18.8" lengthAdjust="spacingAndGlyphs">1.15</text>
<line x1="470.5" y1="250" x2="470.5" y2="260"/>
<line x1="466" y1="259.5" x2="475" y2="250.5" stroke-width="1.5"/>
<line x1="465.5" y1="255.5" x2="475.5" y2="255.5" stroke-width="1.8"/>
<line x1="478.5" y1="250" x2="478.5" y2="260"/>
<line x1="474" y1="259.5" x2="483" y2="250.5" stroke-width="1.5"/>
<line x1="473.5" y1="255.5" x2="483.5" y2="255.5" stroke-width="1.8"/>
<line x1="522.5" y1="250" x2="522.5" y2="260"/>
<line x1="517.5" y1="259.5" x2="526.5" y2="250.5" stroke-width="1.5"/>
<line x1="517" y1="255.5" x2="527" y2="255.5" stroke-width="1.8"/>
<line x1="531.5" y1="250" x2="531.5" y2="260"/>
<line x1="526.5" y1="259.5" x2="535.5" y2="250.5" stroke-width="1.5"/>
<line x1="526" y1="255.5" x2="536" y2="255.5" stroke-width="1.8"/>
<line x1="417.5" y1="325" x2="417.5" y2="478"/>
<rect x="417.5" y="336.5" width="10" height="30" style="fill:url(#ht);stroke:none"/>
<rect x="417.5" y="375.5" width="10" height="31" style="fill:url(#ht);stroke:none"/>
<rect x="417.5" y="454.5" width="10" height="24" style="fill:url(#ht);stroke:none"/>
<line x1="427.5" y1="362.5" x2="521.5" y2="362.5" stroke-dasharray="8 4"/>
<rect x="431.5" y="369.5" width="24" height="20" rx="3"/>
<rect x="434.5" y="372.5" width="18" height="15"/>
<rect x="429.5" y="372.5" width="3" height="14"/>
<line x1="440.5" y1="372" x2="440.5" y2="387"/>
<line x1="446.5" y1="372" x2="446.5" y2="387"/>
<text class="i" x="461" y="372.3" font-size="11" textLength="23" lengthAdjust="spacingAndGlyphs">θεση</text>
<text class="i" x="461" y="385.4" font-size="11" textLength="23" lengthAdjust="spacingAndGlyphs">ΑμεΑ</text>
<line x1="427.5" y1="397.5" x2="484" y2="397.5"/>
<line x1="417.5" y1="406.5" x2="484" y2="406.5"/>
<line x1="484.5" y1="397.5" x2="484.5" y2="406"/>
<path d="M518.5 370 A36 36 0 0 0 482.5 406"/>
<path d="M518.5 406.5 L518.5 370.5 L516.5 370.5 L516.5 406.5 Z"/>
<rect x="522.5" y="375.5" width="9" height="31" style="fill:url(#ht);stroke:none"/>
<line x1="522.5" y1="191.5" x2="522.5" y2="406"/>
<line x1="531.5" y1="203.5" x2="531.5" y2="375"/>
<line x1="427.5" y1="469.5" x2="531" y2="469.5"/>
<line x1="417.5" y1="478.5" x2="521.5" y2="478.5"/>
<circle cx="448" cy="425.5" r="6"/>
<path d="M448 425.5 L448 419.5 A6 6 0 0 0 442 425.5 Z" style="fill:#000"/>
<path d="M448 425.5 L448 431.5 A6 6 0 0 0 454 425.5 Z" style="fill:#000"/>
<line x1="439" y1="425.5" x2="457" y2="425.5"/>
<line x1="448.5" y1="416.5" x2="448.5" y2="434.5"/>
<text class="n" x="456" y="423.8" font-size="12.6" textLength="24.5" lengthAdjust="spacingAndGlyphs">+3.75</text>
<line x1="455" y1="426.5" x2="481" y2="426.5"/>
<path d="M391 420 A36 36 0 0 0 427 456"/>
<path d="M427.5 420.5 L391.5 420.5 L391.5 422.5 L427.5 422.5 Z"/>
<line x1="510" y1="332.5" x2="816" y2="332.5"/>
<line x1="522.5" y1="327.5" x2="522.5" y2="337.5"/>
<line x1="517.5" y1="337" x2="526.5" y2="328" stroke-width="1.5"/>
<line x1="517" y1="332.5" x2="527" y2="332.5" stroke-width="1.8"/>
<line x1="531.5" y1="327.5" x2="531.5" y2="337.5"/>
<line x1="526.5" y1="337" x2="535.5" y2="328" stroke-width="1.5"/>
<line x1="526" y1="332.5" x2="536" y2="332.5" stroke-width="1.8"/>
<text class="n" x="520" y="329.3" font-size="12.6" text-anchor="middle" textLength="13.4" lengthAdjust="spacingAndGlyphs">.25</text>
<line x1="521.5" y1="96.5" x2="521.5" y2="174"/>
<line x1="530.5" y1="104" x2="530.5" y2="174"/>
<line x1="521.5" y1="96.5" x2="771.5" y2="96.5"/>
<line x1="530.5" y1="100.5" x2="768.5" y2="100.5" stroke="#555"/>
<line x1="530.5" y1="102.5" x2="768.5" y2="102.5"/>
<line x1="530.5" y1="105.5" x2="765.5" y2="105.5" stroke="#555"/>
<line x1="771.5" y1="96.5" x2="771.5" y2="153"/>
<line x1="768.5" y1="100" x2="768.5" y2="153"/>
<line x1="765.5" y1="105.5" x2="765.5" y2="153"/>
<rect x="521.5" y="174.5" width="10" height="30" style="fill:url(#ht);stroke:none"/>
<line x1="531" y1="174.5" x2="655.5" y2="174.5" stroke-width="1.4"/>
<line x1="531" y1="177.5" x2="655.5" y2="177.5"/>
<line x1="588.5" y1="178.5" x2="652.5" y2="178.5"/>
<line x1="588.5" y1="180.5" x2="652.5" y2="180.5"/>
<line x1="592.5" y1="172" x2="592.5" y2="183"/>
<line x1="655.5" y1="162.5" x2="655.5" y2="177"/>
<line x1="655.5" y1="153.5" x2="805.5" y2="153.5"/>
<line x1="655.5" y1="162.5" x2="795.5" y2="162.5"/>
<rect x="655.5" y="153.5" width="32" height="9" style="fill:url(#ht);stroke:none"/>
<rect x="774.5" y="153.5" width="31" height="9" style="fill:url(#ht);stroke:none"/>
<line x1="805.5" y1="153" x2="805.5" y2="432.5"/>
<line x1="795.5" y1="162.5" x2="795.5" y2="432.5"/>
<line x1="795.5" y1="168.5" x2="795.5" y2="197"/>
<line x1="805.5" y1="168.5" x2="805.5" y2="197"/>
<line x1="800.5" y1="168.5" x2="800.5" y2="197"/>
<line x1="802.5" y1="168.5" x2="802.5" y2="197"/>
<line x1="795.5" y1="168.5" x2="805.5" y2="168.5"/>
<line x1="795.5" y1="197.5" x2="805.5" y2="197.5"/>
<line x1="795.5" y1="258" x2="795.5" y2="289.5"/>
<line x1="805.5" y1="258" x2="805.5" y2="289.5"/>
<line x1="800.5" y1="258" x2="800.5" y2="289.5"/>
<line x1="802.5" y1="258" x2="802.5" y2="289.5"/>
<line x1="795.5" y1="258.5" x2="805.5" y2="258.5"/>
<line x1="795.5" y1="289.5" x2="805.5" y2="289.5"/>
<rect x="805.5" y="296.5" width="5" height="4"/>
<rect x="805.5" y="323.5" width="5" height="3"/>
<line x1="795.5" y1="300" x2="795.5" y2="323.5"/>
<line x1="808.5" y1="300" x2="808.5" y2="323.5"/>
<line x1="801.5" y1="300" x2="801.5" y2="323.5"/>
<line x1="804.5" y1="300" x2="804.5" y2="323.5"/>
<line x1="795.5" y1="300.5" x2="808.5" y2="300.5"/>
<line x1="795.5" y1="323.5" x2="808.5" y2="323.5"/>
<line x1="795.5" y1="366.5" x2="795.5" y2="412"/>
<line x1="805.5" y1="366.5" x2="805.5" y2="412"/>
<line x1="800.5" y1="366.5" x2="800.5" y2="412"/>
<line x1="802.5" y1="366.5" x2="802.5" y2="412"/>
<line x1="795.5" y1="366.5" x2="805.5" y2="366.5"/>
<line x1="795.5" y1="412.5" x2="805.5" y2="412.5"/>
<line x1="792.5" y1="389.5" x2="808.5" y2="389.5"/>
<line x1="531.5" y1="204" x2="531.5" y2="375"/>
<path d="M533.5 192.5 L563.5 192.5 L563.5 195.5 L566.5 195.5 L566.5 271.5 L602.5 271.5 L602.5 273.5 L606.5 273.5 L606.5 303.5 L533.5 303.5 Z"/>
<path d="M537.5 195.5 L563.5 195.5"/>
<line x1="537.5" y1="195.5" x2="537.5" y2="299"/>
<line x1="537.5" y1="299.5" x2="602" y2="299.5"/>
<line x1="602.5" y1="273.5" x2="602.5" y2="299"/>
<line x1="537.5" y1="232.5" x2="566" y2="232.5"/>
<line x1="537.5" y1="271.5" x2="566" y2="271.5"/>
<line x1="566.5" y1="271" x2="566.5" y2="299"/>
<g transform="translate(546 207) rotate(-70)">
<rect x="-6.5" y="-4.5" width="13" height="10" rx="1.5"/>
<rect x="-1.5" y="-1.5" width="12" height="9" rx="1.5"/>
</g>
<g transform="translate(548 291) rotate(25)">
<rect x="-6.5" y="-4.5" width="13" height="10" rx="1.5"/>
<rect x="-1.5" y="-1.5" width="12" height="9" rx="1.5"/>
</g>
<g transform="translate(591 291) rotate(-20)">
<rect x="-6.5" y="-4.5" width="13" height="10" rx="1.5"/>
<rect x="-1.5" y="-1.5" width="12" height="9" rx="1.5"/>
</g>
<rect x="588.5" y="203.5" width="19" height="38"/>
<rect x="649.5" y="197.5" width="6" height="51"/>
<rect x="651.5" y="206.5" width="3" height="40" style="fill:#000"/>
<line x1="660.5" y1="162.5" x2="660.5" y2="267.5"/>
<line x1="655.5" y1="177" x2="655.5" y2="267.5"/>
<path d="M660.5 180.5 L667.5 180.5 L667.5 164.5"/>
<rect x="662.5" y="182.5" width="19" height="82"/>
<line x1="655.5" y1="266.5" x2="682.5" y2="266.5"/>
<line x1="667.5" y1="164" x2="680.5" y2="254"/>
<line x1="682.5" y1="162.5" x2="682.5" y2="340.5"/>
<path d="M655.5 267.5 L655.5 271.5 L673.5 271.5"/>
<path d="M657.5 271.5 L657.5 317.5 L673.5 317.5"/>
<line x1="658" y1="316.5" x2="672.5" y2="274"/>
<path d="M673.5 271.5 L673.5 340.5 L682.5 340.5"/>
<path d="M687.5 264 A34 34 0 0 1 721.5 298"/>
<path d="M687.5 298.5 L687.5 264.5 L690.5 264.5 L690.5 298.5 Z"/>
<rect x="721.5" y="200.5" width="74" height="56"/>
<rect x="777.5" y="201.5" width="14" height="27" rx="1.5"/>
<rect x="777.5" y="228.5" width="14" height="26" rx="1.5"/>
<line x1="793.5" y1="200" x2="793.5" y2="256.5"/>
<path d="M760.5 198.5 Q772 226 770 256.5"/>
<path d="M750 207.5 Q762 228 770 256.5"/>
<path d="M750 207.5 Q754 200 760.5 198.5"/>
<rect x="778.5" y="182.5" width="15" height="16"/>
<rect x="778.5" y="259.5" width="15" height="15"/>
<rect x="723.5" y="279.5" width="50" height="14"/>
<path d="M745.5 282 A6 6 0 1 1 755.5 279.5" stroke-width="1.7"/>
<line x1="720" y1="296.5" x2="795.5" y2="296.5"/>
<line x1="723" y1="299.5" x2="795.5" y2="299.5"/>
<line x1="720.5" y1="293" x2="720.5" y2="296.5"/>
<line x1="723.5" y1="296.5" x2="723.5" y2="362.5"/>
<line x1="726.5" y1="299" x2="726.5" y2="359"/>
<line x1="726.5" y1="359.5" x2="795.5" y2="359.5"/>
<line x1="723" y1="362.5" x2="795.5" y2="362.5"/>
<line x1="723" y1="302.5" x2="756.5" y2="302.5"/>
<path d="M756.5 302 A33 33 0 0 1 729.23 334.5"/>
<rect x="723.5" y="303.5" width="27" height="2"/>
<ellipse cx="785.5" cy="311.5" rx="9.3" ry="8.5"/>
<ellipse cx="785.5" cy="311.5" rx="6.5" ry="5.5"/>
<line x1="794.5" y1="305" x2="794.5" y2="318"/>
<line x1="769.5" y1="334" x2="790" y2="353.5"/>
<circle cx="790" cy="353.5" r="1" style="fill:#000"/>
<line x1="792.5" y1="326.5" x2="792.5" y2="349.5"/>
<rect x="731.5" y="344.5" width="19" height="14"/>
<rect x="734.5" y="346.5" width="13" height="10"/>
<line x1="741.5" y1="348" x2="741.5" y2="354.5" stroke-width="1.5"/>
<g transform="translate(739.2 318.5) scale(1 1)">
<path d="M-1.68 -9.55 A9.7 9.7 0 1 0 9.66 -0.85" stroke-width="1.1"/>
<path d="M-1.39 -7.88 A8 8 0 1 0 7.97 -0.7"/>
<circle cx="1.8" cy="-16.6" r="2.4"/>
<path d="M1 -14 L1.5 -3.5 L10 -3.5 L13.8 4.8 L17.8 2.5" stroke-width="2.2"/>
<path d="M1 -14 L1.5 -3.5 L10 -3.5 L13.8 4.8 L17.8 2.5" stroke-width="0.7" stroke="#fff"/>
<line x1="2.4" y1="-8.9" x2="8.8" y2="-8.9" stroke-width="2.5"/>
</g>
<line x1="773.5" y1="362.5" x2="773.5" y2="410"/>
<line x1="688.5" y1="410.5" x2="773" y2="410.5"/>
<rect x="775.5" y="370.5" width="18" height="33"/>
<rect x="777.5" y="387.5" width="15" height="14" rx="2"/>
<line x1="779.5" y1="373" x2="779.5" y2="384"/>
<line x1="781.5" y1="373" x2="781.5" y2="384"/>
<line x1="784.5" y1="373" x2="784.5" y2="384"/>
<line x1="787.5" y1="373" x2="787.5" y2="384"/>
<line x1="790.5" y1="373" x2="790.5" y2="384"/>
<path d="M779 372 Q785 367 791 372"/>
<circle cx="787" cy="394" r="1" style="fill:#000"/>
<rect x="729.5" y="411.5" width="19" height="19"/>
<circle cx="734.5" cy="416" r="3.1" stroke-width="1.5"/>
<circle cx="734.5" cy="416" r="1.2" style="fill:#000"/>
<line x1="731" y1="416.5" x2="738" y2="416.5"/>
<line x1="734.5" y1="412.5" x2="734.5" y2="419.5"/>
<circle cx="734.5" cy="425.5" r="3.1" stroke-width="1.5"/>
<circle cx="734.5" cy="425.5" r="1.2" style="fill:#000"/>
<line x1="731" y1="425.5" x2="738" y2="425.5"/>
<line x1="734.5" y1="422" x2="734.5" y2="429"/>
<circle cx="743.5" cy="416" r="3.1" stroke-width="1.5"/>
<circle cx="743.5" cy="416" r="1.2" style="fill:#000"/>
<line x1="740" y1="416.5" x2="747" y2="416.5"/>
<line x1="743.5" y1="412.5" x2="743.5" y2="419.5"/>
<circle cx="743.5" cy="425.5" r="3.1" stroke-width="1.5"/>
<circle cx="743.5" cy="425.5" r="1.2" style="fill:#000"/>
<line x1="740" y1="425.5" x2="747" y2="425.5"/>
<line x1="743.5" y1="422" x2="743.5" y2="429"/>
<rect x="688.5" y="410.5" width="22" height="21"/>
<line x1="703" y1="408.5" x2="709" y2="408.5"/>
<line x1="710" y1="419.5" x2="795.5" y2="419.5" stroke-dasharray="8 4"/>
<rect x="774.5" y="432.5" width="31" height="5" style="fill:#000"/>
<line x1="688.5" y1="432.5" x2="774.5" y2="432.5"/>
<rect x="587.5" y="348.5" width="50" height="30"/>
<rect x="596.5" y="340.5" width="13" height="8"/>
<path d="M596 341 Q602.5 338 609 341" stroke-width="1.6"/>
<rect x="596.5" y="378.5" width="13" height="8"/>
<path d="M596 385.5 Q602.5 388.5 609 385.5" stroke-width="1.6"/>
<rect x="615.5" y="340.5" width="13" height="8"/>
<path d="M615.5 341 Q622 338 628.5 341" stroke-width="1.6"/>
<rect x="615.5" y="378.5" width="13" height="8"/>
<path d="M615.5 385.5 Q622 388.5 628.5 385.5" stroke-width="1.6"/>
<line x1="571" y1="397.5" x2="687.5" y2="397.5"/>
<line x1="531" y1="406.5" x2="687.5" y2="406.5"/>
<line x1="571.5" y1="397.5" x2="571.5" y2="406"/>
<line x1="687.5" y1="397.5" x2="687.5" y2="437.5"/>
<rect x="582.5" y="397.5" width="18" height="9" style="fill:url(#ht);stroke:none"/>
<rect x="656.5" y="397.5" width="31" height="9" style="fill:url(#ht);stroke:none"/>
<path d="M534.5 370 A36 36 0 0 1 570.5 406"/>
<path d="M534.5 406.5 L534.5 370.5 L537.5 370.5 L537.5 406.5 Z"/>
<g transform="translate(0 874.6) scale(1 -1)">
<line x1="521.5" y1="96.5" x2="521.5" y2="174"/>
<line x1="530.5" y1="104" x2="530.5" y2="174"/>
<line x1="521.5" y1="96.5" x2="771.5" y2="96.5"/>
<line x1="530.5" y1="100.5" x2="768.5" y2="100.5" stroke="#555"/>
<line x1="530.5" y1="102.5" x2="768.5" y2="102.5"/>
<line x1="530.5" y1="105.5" x2="765.5" y2="105.5" stroke="#555"/>
<line x1="771.5" y1="96.5" x2="771.5" y2="153"/>
<line x1="768.5" y1="100" x2="768.5" y2="153"/>
<line x1="765.5" y1="105.5" x2="765.5" y2="153"/>
<line x1="531" y1="174.5" x2="655.5" y2="174.5" stroke-width="1.4"/>
<line x1="531" y1="177.5" x2="655.5" y2="177.5"/>
<line x1="588.5" y1="178.5" x2="652.5" y2="178.5"/>
<line x1="588.5" y1="180.5" x2="652.5" y2="180.5"/>
<line x1="592.5" y1="172" x2="592.5" y2="183"/>
<line x1="655.5" y1="162.5" x2="655.5" y2="177"/>
<line x1="655.5" y1="153.5" x2="805.5" y2="153.5"/>
<line x1="655.5" y1="162.5" x2="795.5" y2="162.5"/>
<rect x="655.5" y="153.5" width="32" height="9" style="fill:url(#ht);stroke:none"/>
<rect x="774.5" y="153.5" width="31" height="9" style="fill:url(#ht);stroke:none"/>
<line x1="805.5" y1="153" x2="805.5" y2="432.5"/>
<line x1="795.5" y1="162.5" x2="795.5" y2="432.5"/>
<line x1="795.5" y1="168.5" x2="795.5" y2="197"/>
<line x1="805.5" y1="168.5" x2="805.5" y2="197"/>
<line x1="800.5" y1="168.5" x2="800.5" y2="197"/>
<line x1="802.5" y1="168.5" x2="802.5" y2="197"/>
<line x1="795.5" y1="168.5" x2="805.5" y2="168.5"/>
<line x1="795.5" y1="197.5" x2="805.5" y2="197.5"/>
<line x1="795.5" y1="258" x2="795.5" y2="289.5"/>
<line x1="805.5" y1="258" x2="805.5" y2="289.5"/>
<line x1="800.5" y1="258" x2="800.5" y2="289.5"/>
<line x1="802.5" y1="258" x2="802.5" y2="289.5"/>
<line x1="795.5" y1="258.5" x2="805.5" y2="258.5"/>
<line x1="795.5" y1="289.5" x2="805.5" y2="289.5"/>
<rect x="805.5" y="296.5" width="5" height="4"/>
<rect x="805.5" y="323.5" width="5" height="3"/>
<line x1="795.5" y1="300" x2="795.5" y2="323.5"/>
<line x1="808.5" y1="300" x2="808.5" y2="323.5"/>
<line x1="801.5" y1="300" x2="801.5" y2="323.5"/>
<line x1="804.5" y1="300" x2="804.5" y2="323.5"/>
<line x1="795.5" y1="300.5" x2="808.5" y2="300.5"/>
<line x1="795.5" y1="323.5" x2="808.5" y2="323.5"/>
<line x1="795.5" y1="366.5" x2="795.5" y2="412"/>
<line x1="805.5" y1="366.5" x2="805.5" y2="412"/>
<line x1="800.5" y1="366.5" x2="800.5" y2="412"/>
<line x1="802.5" y1="366.5" x2="802.5" y2="412"/>
<line x1="795.5" y1="366.5" x2="805.5" y2="366.5"/>
<line x1="795.5" y1="412.5" x2="805.5" y2="412.5"/>
<line x1="792.5" y1="389.5" x2="808.5" y2="389.5"/>
<line x1="531.5" y1="204" x2="531.5" y2="375"/>
<path d="M533.5 192.5 L563.5 192.5 L563.5 195.5 L566.5 195.5 L566.5 271.5 L602.5 271.5 L602.5 273.5 L606.5 273.5 L606.5 303.5 L533.5 303.5 Z"/>
<path d="M537.5 195.5 L563.5 195.5"/>
<line x1="537.5" y1="195.5" x2="537.5" y2="299"/>
<line x1="537.5" y1="299.5" x2="602" y2="299.5"/>
<line x1="602.5" y1="273.5" x2="602.5" y2="299"/>
<line x1="537.5" y1="232.5" x2="566" y2="232.5"/>
<line x1="537.5" y1="271.5" x2="566" y2="271.5"/>
<line x1="566.5" y1="271" x2="566.5" y2="299"/>
<g transform="translate(546 207) rotate(-70)">
<rect x="-6.5" y="-4.5" width="13" height="10" rx="1.5"/>
<rect x="-1.5" y="-1.5" width="12" height="9" rx="1.5"/>
</g>
<g transform="translate(548 291) rotate(25)">
<rect x="-6.5" y="-4.5" width="13" height="10" rx="1.5"/>
<rect x="-1.5" y="-1.5" width="12" height="9" rx="1.5"/>
</g>
<g transform="translate(591 291) rotate(-20)">
<rect x="-6.5" y="-4.5" width="13" height="10" rx="1.5"/>
<rect x="-1.5" y="-1.5" width="12" height="9" rx="1.5"/>
</g>
<rect x="588.5" y="203.5" width="19" height="38"/>
<rect x="649.5" y="197.5" width="6" height="51"/>
<rect x="651.5" y="206.5" width="3" height="40" style="fill:#000"/>
<line x1="660.5" y1="162.5" x2="660.5" y2="267.5"/>
<line x1="655.5" y1="177" x2="655.5" y2="267.5"/>
<path d="M660.5 180.5 L667.5 180.5 L667.5 164.5"/>
<rect x="662.5" y="182.5" width="19" height="82"/>
<line x1="655.5" y1="266.5" x2="682.5" y2="266.5"/>
<line x1="667.5" y1="164" x2="680.5" y2="254"/>
<line x1="682.5" y1="162.5" x2="682.5" y2="340.5"/>
<path d="M655.5 267.5 L655.5 271.5 L673.5 271.5"/>
<path d="M657.5 271.5 L657.5 317.5 L673.5 317.5"/>
<line x1="658" y1="316.5" x2="672.5" y2="274"/>
<path d="M673.5 271.5 L673.5 340.5 L682.5 340.5"/>
<path d="M687.5 264 A34 34 0 0 1 721.5 298"/>
<path d="M687.5 298.5 L687.5 264.5 L690.5 264.5 L690.5 298.5 Z"/>
<rect x="721.5" y="200.5" width="74" height="56"/>
<rect x="777.5" y="201.5" width="14" height="27" rx="1.5"/>
<rect x="777.5" y="228.5" width="14" height="26" rx="1.5"/>
<line x1="793.5" y1="200" x2="793.5" y2="256.5"/>
<path d="M760.5 198.5 Q772 226 770 256.5"/>
<path d="M750 207.5 Q762 228 770 256.5"/>
<path d="M750 207.5 Q754 200 760.5 198.5"/>
<rect x="778.5" y="182.5" width="15" height="16"/>
<rect x="778.5" y="259.5" width="15" height="15"/>
<rect x="723.5" y="279.5" width="50" height="14"/>
<path d="M745.5 282 A6 6 0 1 1 755.5 279.5" stroke-width="1.7"/>
<line x1="720" y1="296.5" x2="795.5" y2="296.5"/>
<line x1="723" y1="299.5" x2="795.5" y2="299.5"/>
<line x1="720.5" y1="293" x2="720.5" y2="296.5"/>
<line x1="723.5" y1="296.5" x2="723.5" y2="362.5"/>
<line x1="726.5" y1="299" x2="726.5" y2="359"/>
<line x1="726.5" y1="359.5" x2="795.5" y2="359.5"/>
<line x1="723" y1="362.5" x2="795.5" y2="362.5"/>
<line x1="723" y1="302.5" x2="756.5" y2="302.5"/>
<path d="M756.5 302 A33 33 0 0 1 729.23 334.5"/>
<rect x="723.5" y="303.5" width="27" height="2"/>
<ellipse cx="785.5" cy="311.5" rx="9.3" ry="8.5"/>
<ellipse cx="785.5" cy="311.5" rx="6.5" ry="5.5"/>
<line x1="794.5" y1="305" x2="794.5" y2="318"/>
<line x1="769.5" y1="334" x2="790" y2="353.5"/>
<circle cx="790" cy="353.5" r="1" style="fill:#000"/>
<line x1="792.5" y1="326.5" x2="792.5" y2="349.5"/>
<rect x="731.5" y="344.5" width="19" height="14"/>
<rect x="734.5" y="346.5" width="13" height="10"/>
<line x1="741.5" y1="348" x2="741.5" y2="354.5" stroke-width="1.5"/>
<line x1="773.5" y1="362.5" x2="773.5" y2="410"/>
<line x1="688.5" y1="410.5" x2="773" y2="410.5"/>
<rect x="775.5" y="370.5" width="18" height="33"/>
<rect x="777.5" y="387.5" width="15" height="14" rx="2"/>
<line x1="779.5" y1="373" x2="779.5" y2="384"/>
<line x1="781.5" y1="373" x2="781.5" y2="384"/>
<line x1="784.5" y1="373" x2="784.5" y2="384"/>
<line x1="787.5" y1="373" x2="787.5" y2="384"/>
<line x1="790.5" y1="373" x2="790.5" y2="384"/>
<path d="M779 372 Q785 367 791 372"/>
<circle cx="787" cy="394" r="1" style="fill:#000"/>
<rect x="729.5" y="411.5" width="19" height="19"/>
<circle cx="734.5" cy="416" r="3.1" stroke-width="1.5"/>
<circle cx="734.5" cy="416" r="1.2" style="fill:#000"/>
<line x1="731" y1="416.5" x2="738" y2="416.5"/>
<line x1="734.5" y1="412.5" x2="734.5" y2="419.5"/>
<circle cx="734.5" cy="425.5" r="3.1" stroke-width="1.5"/>
<circle cx="734.5" cy="425.5" r="1.2" style="fill:#000"/>
<line x1="731" y1="425.5" x2="738" y2="425.5"/>
<line x1="734.5" y1="422" x2="734.5" y2="429"/>
<circle cx="743.5" cy="416" r="3.1" stroke-width="1.5"/>
<circle cx="743.5" cy="416" r="1.2" style="fill:#000"/>
<line x1="740" y1="416.5" x2="747" y2="416.5"/>
<line x1="743.5" y1="412.5" x2="743.5" y2="419.5"/>
<circle cx="743.5" cy="425.5" r="3.1" stroke-width="1.5"/>
<circle cx="743.5" cy="425.5" r="1.2" style="fill:#000"/>
<line x1="740" y1="425.5" x2="747" y2="425.5"/>
<line x1="743.5" y1="422" x2="743.5" y2="429"/>
<rect x="688.5" y="410.5" width="22" height="21"/>
<line x1="703" y1="408.5" x2="709" y2="408.5"/>
<line x1="710" y1="419.5" x2="795.5" y2="419.5" stroke-dasharray="8 4"/>
<rect x="774.5" y="432.5" width="31" height="5" style="fill:#000"/>
<line x1="688.5" y1="432.5" x2="774.5" y2="432.5"/>
<rect x="587.5" y="348.5" width="50" height="30"/>
<rect x="596.5" y="340.5" width="13" height="8"/>
<path d="M596 341 Q602.5 338 609 341" stroke-width="1.6"/>
<rect x="596.5" y="378.5" width="13" height="8"/>
<path d="M596 385.5 Q602.5 388.5 609 385.5" stroke-width="1.6"/>
<rect x="615.5" y="340.5" width="13" height="8"/>
<path d="M615.5 341 Q622 338 628.5 341" stroke-width="1.6"/>
<rect x="615.5" y="378.5" width="13" height="8"/>
<path d="M615.5 385.5 Q622 388.5 628.5 385.5" stroke-width="1.6"/>
<line x1="571" y1="397.5" x2="687.5" y2="397.5"/>
<line x1="531" y1="406.5" x2="687.5" y2="406.5"/>
<line x1="571.5" y1="397.5" x2="571.5" y2="406"/>
<line x1="687.5" y1="397.5" x2="687.5" y2="437.5"/>
<rect x="582.5" y="397.5" width="18" height="9" style="fill:url(#ht);stroke:none"/>
<rect x="656.5" y="397.5" width="31" height="9" style="fill:url(#ht);stroke:none"/>
<path d="M534.5 370 A36 36 0 0 1 570.5 406"/>
<path d="M534.5 406.5 L534.5 370.5 L537.5 370.5 L537.5 406.5 Z"/>
</g>
<g transform="translate(739.8 559.8) scale(1 1)">
<path d="M-1.68 -9.55 A9.7 9.7 0 1 0 9.66 -0.85" stroke-width="1.1"/>
<path d="M-1.39 -7.88 A8 8 0 1 0 7.97 -0.7"/>
<circle cx="1.8" cy="-16.6" r="2.4"/>
<path d="M1 -14 L1.5 -3.5 L10 -3.5 L13.8 4.8 L17.8 2.5" stroke-width="2.2"/>
<path d="M1 -14 L1.5 -3.5 L10 -3.5 L13.8 4.8 L17.8 2.5" stroke-width="0.7" stroke="#fff"/>
<line x1="2.4" y1="-8.9" x2="8.8" y2="-8.9" stroke-width="2.5"/>
</g>
<rect x="774.5" y="432.5" width="31" height="10" style="fill:#000"/>
<rect x="522.5" y="375.5" width="9" height="31" style="fill:url(#ht);stroke:none"/>
<path d="M581.5 406.5 L581.5 422.5 L585.5 422.5"/>
<line x1="585.5" y1="406" x2="585.5" y2="469"/>
<line x1="581.5" y1="447" x2="581.5" y2="469"/>
<rect x="581.5" y="437.5" width="3" height="15"/>
<rect x="585.5" y="414.5" width="55" height="46"/>
<path d="M585.5 416.5 L638.5 416.5 L638.5 458.5 L585.5 458.5"/>
<line x1="659.5" y1="406" x2="659.5" y2="469"/>
<rect x="668.5" y="406.5" width="16" height="63"/>
<line x1="670.5" y1="406" x2="670.5" y2="469"/>
<line x1="682.5" y1="406" x2="682.5" y2="469"/>
<line x1="670" y1="406" x2="682.5" y2="469"/>
<line x1="682.5" y1="406" x2="670" y2="469"/>
<circle cx="674" cy="408" r="1.6"/>
<circle cx="678" cy="408" r="1.6"/>
<circle cx="674" cy="467" r="1.6"/>
<circle cx="678" cy="467" r="1.6"/>
<line x1="688.5" y1="406" x2="688.5" y2="469"/>
<line x1="655" y1="445.5" x2="685.5" y2="445.5"/>
<line x1="659.5" y1="440" x2="659.5" y2="450"/>
<line x1="655" y1="449.5" x2="664" y2="440.5" stroke-width="1.5"/>
<line x1="668.5" y1="440" x2="668.5" y2="450"/>
<line x1="664" y1="449.5" x2="673" y2="440.5" stroke-width="1.5"/>
<line x1="684.5" y1="440" x2="684.5" y2="450"/>
<line x1="679.5" y1="449.5" x2="688.5" y2="440.5" stroke-width="1.5"/>
<line x1="544.5" y1="105.5" x2="544.5" y2="174" stroke-width="1.7" stroke="#6a6a6a"/>
<line x1="560.5" y1="105.5" x2="560.5" y2="174" stroke-width="1.7" stroke="#6a6a6a"/>
<line x1="575.5" y1="105.5" x2="575.5" y2="174" stroke-width="1.7" stroke="#6a6a6a"/>
<line x1="590.5" y1="105.5" x2="590.5" y2="174" stroke-width="1.7" stroke="#6a6a6a"/>
<line x1="605.5" y1="105.5" x2="605.5" y2="174" stroke-width="1.7" stroke="#6a6a6a"/>
<line x1="620.5" y1="105.5" x2="620.5" y2="174" stroke-width="1.7" stroke="#6a6a6a"/>
<line x1="636.5" y1="105.5" x2="636.5" y2="174" stroke-width="1.7" stroke="#6a6a6a"/>
<line x1="651.5" y1="105.5" x2="651.5" y2="174" stroke-width="1.7" stroke="#6a6a6a"/>
<line x1="666.5" y1="105.5" x2="666.5" y2="153" stroke-width="1.7" stroke="#6a6a6a"/>
<line x1="681.5" y1="104" x2="681.5" y2="153" stroke-width="1.8" stroke-dasharray="9 4"/>
<line x1="696.5" y1="105.5" x2="696.5" y2="153" stroke-width="1.7" stroke="#6a6a6a"/>
<line x1="712.5" y1="105.5" x2="712.5" y2="153" stroke-width="1.7" stroke="#6a6a6a"/>
<line x1="727.5" y1="105.5" x2="727.5" y2="153" stroke-width="1.7" stroke="#6a6a6a"/>
<line x1="742.5" y1="105.5" x2="742.5" y2="153" stroke-width="1.7" stroke="#6a6a6a"/>
<line x1="757.5" y1="105.5" x2="757.5" y2="153" stroke-width="1.7" stroke="#6a6a6a"/>
<line x1="530.5" y1="108.5" x2="765.5" y2="108.5"/>
<line x1="530.5" y1="123.5" x2="765.5" y2="123.5"/>
<line x1="530.5" y1="138.5" x2="765.5" y2="138.5"/>
<line x1="530.5" y1="153.5" x2="655.5" y2="153.5"/>
<line x1="530.5" y1="168.5" x2="655.5" y2="168.5"/>
<line x1="544.5" y1="700.5" x2="544.5" y2="768.5" stroke-width="1.7" stroke="#6a6a6a"/>
<line x1="560.5" y1="700.5" x2="560.5" y2="768.5" stroke-width="1.7" stroke="#6a6a6a"/>
<line x1="575.5" y1="700.5" x2="575.5" y2="768.5" stroke-width="1.7" stroke="#6a6a6a"/>
<line x1="590.5" y1="700.5" x2="590.5" y2="768.5" stroke-width="1.7" stroke="#6a6a6a"/>
<line x1="605.5" y1="700.5" x2="605.5" y2="768.5" stroke-width="1.7" stroke="#6a6a6a"/>
<line x1="620.5" y1="700.5" x2="620.5" y2="768.5" stroke-width="1.7" stroke="#6a6a6a"/>
<line x1="636.5" y1="700.5" x2="636.5" y2="768.5" stroke-width="1.7" stroke="#6a6a6a"/>
<line x1="651.5" y1="700.5" x2="651.5" y2="768.5" stroke-width="1.7" stroke="#6a6a6a"/>
<line x1="666.5" y1="721.5" x2="666.5" y2="768.5" stroke-width="1.7" stroke="#6a6a6a"/>
<line x1="681.5" y1="721.5" x2="681.5" y2="768.5" stroke-width="1.7" stroke="#6a6a6a"/>
<line x1="696.5" y1="721.5" x2="696.5" y2="768.5" stroke-width="1.7" stroke="#6a6a6a"/>
<line x1="712.5" y1="721.5" x2="712.5" y2="768.5" stroke-width="1.7" stroke="#6a6a6a"/>
<line x1="727.5" y1="721.5" x2="727.5" y2="770" stroke-width="1.8" stroke-dasharray="9 4"/>
<line x1="742.5" y1="721.5" x2="742.5" y2="768.5" stroke-width="1.7" stroke="#6a6a6a"/>
<line x1="757.5" y1="721.5" x2="757.5" y2="768.5" stroke-width="1.7" stroke="#6a6a6a"/>
<line x1="772.5" y1="721.5" x2="772.5" y2="768.5" stroke-width="1.7" stroke="#6a6a6a"/>
<line x1="788.5" y1="721.5" x2="788.5" y2="768.5" stroke-width="1.7" stroke="#6a6a6a"/>
<line x1="530.5" y1="712.5" x2="655.5" y2="712.5"/>
<line x1="530.5" y1="727.5" x2="795" y2="727.5"/>
<line x1="530.5" y1="742.5" x2="795" y2="742.5"/>
<line x1="530.5" y1="757.5" x2="795" y2="757.5"/>
<line x1="531" y1="700.5" x2="655.5" y2="700.5"/>
<line x1="601" y1="107" x2="531" y2="174"/>
<line x1="601" y1="107" x2="771" y2="153.5"/>
<path d="M600 108 L659 166 M602.5 107 L661 164" stroke-dasharray="4 2"/>
<circle cx="601" cy="107.5" r="1.8"/>
<circle cx="660" cy="166" r="1.8"/>
<path d="M720.5 137.5 L678.5 137.5 L663.5 162.5"/>
<line x1="540" y1="128.5" x2="566" y2="117"/>
<path d="M566 117 L558.42 122.1 L557.12 119.18 Z" stroke-width="0.5" style="fill:#000"/>
<line x1="688.5" y1="120.5" x2="660" y2="117"/>
<path d="M660 117 L669.13 116.51 L668.74 119.69 Z" stroke-width="0.5" style="fill:#000"/>
<line x1="607.5" y1="133.5" x2="607.5" y2="162.5" stroke-width="1.6"/>
<text class="r" x="562.5" y="130.5" font-size="12.8" textLength="42.5" lengthAdjust="spacingAndGlyphs">ΒΕΡΑΝΤΑ</text>
<text class="n" x="574.7" y="144.3" font-size="12.6" textLength="24.5" lengthAdjust="spacingAndGlyphs">+3.70</text>
<line x1="573" y1="147.5" x2="600" y2="147.5"/>
<circle cx="567.5" cy="147" r="6"/>
<path d="M567.5 147 L567.5 141 A6 6 0 0 0 561.5 147 Z" style="fill:#000"/>
<path d="M567.5 147 L567.5 153 A6 6 0 0 0 573.5 147 Z" style="fill:#000"/>
<line x1="558.5" y1="147.5" x2="576.5" y2="147.5"/>
<line x1="567.5" y1="138" x2="567.5" y2="156"/>
<text class="r" x="691" y="135" font-size="11" textLength="36" lengthAdjust="spacingAndGlyphs">ΤΔΡ.Φ4''</text>
<line x1="629.5" y1="85" x2="629.5" y2="788.5"/>
<text class="n" font-size="12.6" text-anchor="middle" textLength="18.8" lengthAdjust="spacingAndGlyphs" transform="translate(625.2 134.5) rotate(-90)">2.05</text>
<text class="n" font-size="12.6" text-anchor="middle" textLength="13.4" lengthAdjust="spacingAndGlyphs" transform="translate(625.2 187) rotate(-90)">.20</text>
<text class="n" font-size="12.6" text-anchor="middle" textLength="18.8" lengthAdjust="spacingAndGlyphs" transform="translate(625.2 269.5) rotate(-90)">5.70</text>
<text class="n" font-size="12.6" text-anchor="middle" textLength="13.4" lengthAdjust="spacingAndGlyphs" transform="translate(625.2 390) rotate(-90)">.25</text>
<line x1="623" y1="96.5" x2="635" y2="96.5" stroke-width="1.8"/>
<line x1="624.5" y1="92" x2="633.5" y2="101" stroke-width="1.5"/>
<line x1="623" y1="174.5" x2="635" y2="174.5" stroke-width="1.8"/>
<line x1="624.5" y1="170" x2="633.5" y2="179" stroke-width="1.5"/>
<line x1="623" y1="180.5" x2="635" y2="180.5" stroke-width="1.8"/>
<line x1="624.5" y1="176" x2="633.5" y2="185" stroke-width="1.5"/>
<line x1="623" y1="397.5" x2="635" y2="397.5" stroke-width="1.8"/>
<line x1="624.5" y1="393" x2="633.5" y2="402" stroke-width="1.5"/>
<line x1="623" y1="406.5" x2="635" y2="406.5" stroke-width="1.8"/>
<line x1="624.5" y1="401.5" x2="633.5" y2="410.5" stroke-width="1.5"/>
<line x1="534" y1="749" x2="653.5" y2="700"/>
<line x1="534.5" y1="750" x2="795" y2="768.5"/>
<circle cx="532.7" cy="749.7" r="2"/>
<line x1="578.5" y1="708" x2="554" y2="725.2"/>
<path d="M554 725.2 L560.45 718.72 L562.29 721.34 Z" stroke-width="0.5" style="fill:#000"/>
<line x1="690.5" y1="740" x2="652.5" y2="741"/>
<path d="M652.5 741 L661.45 739.16 L661.54 742.36 Z" stroke-width="0.5" style="fill:#000"/>
<line x1="594" y1="765" x2="565.5" y2="760"/>
<path d="M565.5 760 L574.64 759.98 L574.09 763.13 Z" stroke-width="0.5" style="fill:#000"/>
<text class="r" x="562.6" y="732.6" font-size="12.8" textLength="42" lengthAdjust="spacingAndGlyphs">ΒΕΡΑΝΤΑ</text>
<text class="n" x="576.8" y="745.1" font-size="12.6" textLength="24" lengthAdjust="spacingAndGlyphs">+3.70</text>
<line x1="559" y1="747.5" x2="601" y2="747.5"/>
<circle cx="568.3" cy="747.4" r="6"/>
<path d="M568.3 747.4 L568.3 741.4 A6 6 0 0 0 562.3 747.4 Z" style="fill:#000"/>
<path d="M568.3 747.4 L568.3 753.4 A6 6 0 0 0 574.3 747.4 Z" style="fill:#000"/>
<line x1="559.3" y1="747.5" x2="577.3" y2="747.5"/>
<line x1="568.5" y1="738.4" x2="568.5" y2="756.4"/>
<text class="n" font-size="12.6" text-anchor="middle" textLength="18.8" lengthAdjust="spacingAndGlyphs" transform="translate(625.2 738.5) rotate(-90)">2.05</text>
<text class="n" font-size="12.6" text-anchor="middle" textLength="13.4" lengthAdjust="spacingAndGlyphs" transform="translate(625.2 686) rotate(-90)">.20</text>
<text class="n" font-size="12.6" text-anchor="middle" textLength="18.8" lengthAdjust="spacingAndGlyphs" transform="translate(625.2 605) rotate(-90)">5.70</text>
<text class="n" font-size="12.6" text-anchor="middle" textLength="13.4" lengthAdjust="spacingAndGlyphs" transform="translate(625.2 480) rotate(-90)">.25</text>
<line x1="623" y1="469.5" x2="635" y2="469.5" stroke-width="1.8"/>
<line x1="624.5" y1="464.5" x2="633.5" y2="473.5" stroke-width="1.5"/>
<line x1="623" y1="478.5" x2="635" y2="478.5" stroke-width="1.8"/>
<line x1="624.5" y1="473.5" x2="633.5" y2="482.5" stroke-width="1.5"/>
<line x1="623" y1="694.5" x2="635" y2="694.5" stroke-width="1.8"/>
<line x1="624.5" y1="689.5" x2="633.5" y2="698.5" stroke-width="1.5"/>
<line x1="623" y1="700.5" x2="635" y2="700.5" stroke-width="1.8"/>
<line x1="624.5" y1="695.5" x2="633.5" y2="704.5" stroke-width="1.5"/>
<line x1="623" y1="777.5" x2="635" y2="777.5" stroke-width="1.8"/>
<line x1="624.5" y1="773" x2="633.5" y2="782" stroke-width="1.5"/>
<text class="r" x="687.5" y="230" font-size="12.8" textLength="64.5" lengthAdjust="spacingAndGlyphs">ΤΠΝΟΔΩΜΑΤΙΟ</text>
<text class="r" x="584" y="267" font-size="12.8" textLength="32" lengthAdjust="spacingAndGlyphs">ΣΑΛΟΝΙ</text>
<text class="n" x="540.5" y="251.3" font-size="12.6" text-anchor="middle" textLength="13.4" lengthAdjust="spacingAndGlyphs">.25</text>
<text class="n" x="594" y="251.8" font-size="12.6" text-anchor="middle" textLength="18.8" lengthAdjust="spacingAndGlyphs">3.30</text>
<text class="n" x="667" y="251.8" font-size="12.6" text-anchor="middle" textLength="13.4" lengthAdjust="spacingAndGlyphs">.10</text>
<text class="n" x="692" y="251.8" font-size="12.6" text-anchor="middle" textLength="13.4" lengthAdjust="spacingAndGlyphs">.60</text>
<text class="n" x="739" y="251.8" font-size="12.6" text-anchor="middle" textLength="18.8" lengthAdjust="spacingAndGlyphs">3.00</text>
<text class="n" x="817" y="251.3" font-size="12.6" text-anchor="middle" textLength="13.4" lengthAdjust="spacingAndGlyphs">.25</text>
<line x1="531" y1="255.5" x2="816" y2="255.5"/>
<line x1="531.5" y1="250.5" x2="531.5" y2="260.5"/>
<line x1="526.5" y1="260" x2="535.5" y2="251" stroke-width="1.5"/>
<line x1="525" y1="255.5" x2="537" y2="255.5" stroke-width="1.8"/>
<line x1="655.5" y1="250.5" x2="655.5" y2="260.5"/>
<line x1="651" y1="260" x2="660" y2="251" stroke-width="1.5"/>
<line x1="649.5" y1="255.5" x2="661.5" y2="255.5" stroke-width="1.8"/>
<line x1="660.5" y1="250.5" x2="660.5" y2="260.5"/>
<line x1="656" y1="260" x2="665" y2="251" stroke-width="1.5"/>
<line x1="654.5" y1="255.5" x2="666.5" y2="255.5" stroke-width="1.8"/>
<line x1="682.5" y1="250.5" x2="682.5" y2="260.5"/>
<line x1="678" y1="260" x2="687" y2="251" stroke-width="1.5"/>
<line x1="676.5" y1="255.5" x2="688.5" y2="255.5" stroke-width="1.8"/>
<line x1="795.5" y1="250.5" x2="795.5" y2="260.5"/>
<line x1="791" y1="260" x2="800" y2="251" stroke-width="1.5"/>
<line x1="789.5" y1="255.5" x2="801.5" y2="255.5" stroke-width="1.8"/>
<line x1="805.5" y1="250.5" x2="805.5" y2="260.5"/>
<line x1="801" y1="260" x2="810" y2="251" stroke-width="1.5"/>
<line x1="799.5" y1="255.5" x2="811.5" y2="255.5" stroke-width="1.8"/>
<text class="n" x="610.5" y="322.8" font-size="12.6" text-anchor="middle" textLength="18.8" lengthAdjust="spacingAndGlyphs">3.75</text>
<text class="n" x="663.5" y="328.8" font-size="12.6" text-anchor="middle" textLength="13.4" lengthAdjust="spacingAndGlyphs">.25</text>
<text class="n" x="701.5" y="328.8" font-size="12.6" text-anchor="middle" textLength="18.8" lengthAdjust="spacingAndGlyphs">1.10</text>
<text class="n" x="720" y="328.8" font-size="12.6" text-anchor="middle" textLength="13.4" lengthAdjust="spacingAndGlyphs">.10</text>
<text class="n" x="766.5" y="328.8" font-size="12.6" text-anchor="middle" textLength="18.8" lengthAdjust="spacingAndGlyphs">1.80</text>
<text class="n" x="817" y="328.8" font-size="12.6" text-anchor="middle" textLength="13.4" lengthAdjust="spacingAndGlyphs">.25</text>
<line x1="673.5" y1="327.5" x2="673.5" y2="337.5"/>
<line x1="668.5" y1="337" x2="677.5" y2="328" stroke-width="1.5"/>
<line x1="667" y1="332.5" x2="679" y2="332.5" stroke-width="1.8"/>
<line x1="682.5" y1="327.5" x2="682.5" y2="337.5"/>
<line x1="678" y1="337" x2="687" y2="328" stroke-width="1.5"/>
<line x1="676.5" y1="332.5" x2="688.5" y2="332.5" stroke-width="1.8"/>
<line x1="723.5" y1="327.5" x2="723.5" y2="337.5"/>
<line x1="718.5" y1="337" x2="727.5" y2="328" stroke-width="1.5"/>
<line x1="717" y1="332.5" x2="729" y2="332.5" stroke-width="1.8"/>
<line x1="726.5" y1="327.5" x2="726.5" y2="337.5"/>
<line x1="722" y1="337" x2="731" y2="328" stroke-width="1.5"/>
<line x1="720.5" y1="332.5" x2="732.5" y2="332.5" stroke-width="1.8"/>
<line x1="795.5" y1="327.5" x2="795.5" y2="337.5"/>
<line x1="791" y1="337" x2="800" y2="328" stroke-width="1.5"/>
<line x1="789.5" y1="332.5" x2="801.5" y2="332.5" stroke-width="1.8"/>
<line x1="805.5" y1="327.5" x2="805.5" y2="337.5"/>
<line x1="801" y1="337" x2="810" y2="328" stroke-width="1.5"/>
<line x1="799.5" y1="332.5" x2="811.5" y2="332.5" stroke-width="1.8"/>
<circle cx="672" cy="367" r="12"/>
<text class="n" x="672" y="372.3" font-size="13" text-anchor="middle" textLength="19" lengthAdjust="spacingAndGlyphs">203</text>
<line x1="764.5" y1="150" x2="764.5" y2="732.5"/>
<line x1="759" y1="153.5" x2="769" y2="153.5" stroke-width="1.8"/>
<line x1="759.5" y1="148.5" x2="768.5" y2="157.5" stroke-width="1.5"/>
<line x1="759" y1="162.5" x2="769" y2="162.5" stroke-width="1.8"/>
<line x1="759.5" y1="158" x2="768.5" y2="167" stroke-width="1.5"/>
<line x1="759" y1="296.5" x2="769" y2="296.5" stroke-width="1.8"/>
<line x1="759.5" y1="292" x2="768.5" y2="301" stroke-width="1.5"/>
<line x1="759" y1="299.5" x2="769" y2="299.5" stroke-width="1.8"/>
<line x1="759.5" y1="294.5" x2="768.5" y2="303.5" stroke-width="1.5"/>
<line x1="759" y1="359.5" x2="769" y2="359.5" stroke-width="1.8"/>
<line x1="759.5" y1="354.5" x2="768.5" y2="363.5" stroke-width="1.5"/>
<line x1="759" y1="362.5" x2="769" y2="362.5" stroke-width="1.8"/>
<line x1="759.5" y1="358" x2="768.5" y2="367" stroke-width="1.5"/>
<line x1="759" y1="410.5" x2="769" y2="410.5" stroke-width="1.8"/>
<line x1="759.5" y1="405.5" x2="768.5" y2="414.5" stroke-width="1.5"/>
<line x1="759" y1="432.5" x2="769" y2="432.5" stroke-width="1.8"/>
<line x1="759.5" y1="428" x2="768.5" y2="437" stroke-width="1.5"/>
<line x1="759" y1="442.5" x2="769" y2="442.5" stroke-width="1.8"/>
<line x1="759.5" y1="437.5" x2="768.5" y2="446.5" stroke-width="1.5"/>
<text class="n" font-size="12.6" text-anchor="middle" textLength="13.4" lengthAdjust="spacingAndGlyphs" transform="translate(759.7 179) rotate(-90)">.25</text>
<text class="n" font-size="12.6" text-anchor="middle" textLength="18.8" lengthAdjust="spacingAndGlyphs" transform="translate(759.7 232.5) rotate(-90)">3.50</text>
<text class="n" font-size="12.6" text-anchor="middle" textLength="13.4" lengthAdjust="spacingAndGlyphs" transform="translate(759.7 285.5) rotate(-90)">.10</text>
<text class="n" font-size="12.6" text-anchor="middle" textLength="18.8" lengthAdjust="spacingAndGlyphs" transform="translate(759.7 344) rotate(-90)">1.60</text>
<text class="n" font-size="12.6" text-anchor="middle" textLength="13.4" lengthAdjust="spacingAndGlyphs" transform="translate(759.7 373) rotate(-90)">.10</text>
<text class="n" font-size="12.6" text-anchor="middle" textLength="18.8" lengthAdjust="spacingAndGlyphs" transform="translate(759.7 393.5) rotate(-90)">1.25</text>
<text class="n" font-size="12.6" text-anchor="middle" textLength="13.4" lengthAdjust="spacingAndGlyphs" transform="translate(759.7 420.5) rotate(-90)">.60</text>
<text class="n" font-size="12.6" text-anchor="middle" textLength="13.4" lengthAdjust="spacingAndGlyphs" transform="translate(773.7 423) rotate(-90)">.25</text>
<line x1="800" y1="284.5" x2="822" y2="284.5"/>
<line x1="805.5" y1="279" x2="805.5" y2="289"/>
<line x1="801" y1="288.5" x2="810" y2="279.5" stroke-width="1.5"/>
<line x1="810.5" y1="279" x2="810.5" y2="289"/>
<line x1="805.5" y1="288.5" x2="814.5" y2="279.5" stroke-width="1.5"/>
<text class="n" x="813" y="278.8" font-size="12.6" textLength="13.4" lengthAdjust="spacingAndGlyphs">.15</text>
<text class="r" x="688.4" y="634" font-size="12.8" textLength="64.5" lengthAdjust="spacingAndGlyphs">ΤΠΝΟΔΩΜΑΤΙΟ</text>
<text class="r" x="584" y="615" font-size="12.8" textLength="32" lengthAdjust="spacingAndGlyphs">ΣΑΛΟΝΙ</text>
<line x1="510" y1="666.5" x2="816" y2="666.5"/>
<line x1="521.5" y1="661.5" x2="521.5" y2="671.5"/>
<line x1="517" y1="671" x2="526" y2="662" stroke-width="1.5"/>
<line x1="515.5" y1="666.5" x2="527.5" y2="666.5" stroke-width="1.8"/>
<line x1="531.5" y1="661.5" x2="531.5" y2="671.5"/>
<line x1="526.5" y1="671" x2="535.5" y2="662" stroke-width="1.5"/>
<line x1="525" y1="666.5" x2="537" y2="666.5" stroke-width="1.8"/>
<line x1="655.5" y1="661.5" x2="655.5" y2="671.5"/>
<line x1="651" y1="671" x2="660" y2="662" stroke-width="1.5"/>
<line x1="649.5" y1="666.5" x2="661.5" y2="666.5" stroke-width="1.8"/>
<line x1="660.5" y1="661.5" x2="660.5" y2="671.5"/>
<line x1="656" y1="671" x2="665" y2="662" stroke-width="1.5"/>
<line x1="654.5" y1="666.5" x2="666.5" y2="666.5" stroke-width="1.8"/>
<line x1="682.5" y1="661.5" x2="682.5" y2="671.5"/>
<line x1="678" y1="671" x2="687" y2="662" stroke-width="1.5"/>
<line x1="676.5" y1="666.5" x2="688.5" y2="666.5" stroke-width="1.8"/>
<line x1="795.5" y1="661.5" x2="795.5" y2="671.5"/>
<line x1="791" y1="671" x2="800" y2="662" stroke-width="1.5"/>
<line x1="789.5" y1="666.5" x2="801.5" y2="666.5" stroke-width="1.8"/>
<line x1="805.5" y1="661.5" x2="805.5" y2="671.5"/>
<line x1="801" y1="671" x2="810" y2="662" stroke-width="1.5"/>
<line x1="799.5" y1="666.5" x2="811.5" y2="666.5" stroke-width="1.8"/>
<text class="n" x="506" y="664.3" font-size="12.6" text-anchor="middle" textLength="13.4" lengthAdjust="spacingAndGlyphs">.25</text>
<text class="n" x="594" y="664.3" font-size="12.6" text-anchor="middle" textLength="18.8" lengthAdjust="spacingAndGlyphs">3.30</text>
<text class="n" x="667" y="664.3" font-size="12.6" text-anchor="middle" textLength="13.4" lengthAdjust="spacingAndGlyphs">.10</text>
<text class="n" x="692" y="664.3" font-size="12.6" text-anchor="middle" textLength="13.4" lengthAdjust="spacingAndGlyphs">.60</text>
<text class="n" x="739" y="664.3" font-size="12.6" text-anchor="middle" textLength="18.8" lengthAdjust="spacingAndGlyphs">3.00</text>
<text class="n" x="817" y="664.3" font-size="12.6" text-anchor="middle" textLength="13.4" lengthAdjust="spacingAndGlyphs">.25</text>
<line x1="531" y1="546.5" x2="816" y2="546.5"/>
<line x1="673.5" y1="541" x2="673.5" y2="551"/>
<line x1="668.5" y1="550.5" x2="677.5" y2="541.5" stroke-width="1.5"/>
<line x1="667" y1="546.5" x2="679" y2="546.5" stroke-width="1.8"/>
<line x1="682.5" y1="541" x2="682.5" y2="551"/>
<line x1="678" y1="550.5" x2="687" y2="541.5" stroke-width="1.5"/>
<line x1="676.5" y1="546.5" x2="688.5" y2="546.5" stroke-width="1.8"/>
<line x1="723.5" y1="541" x2="723.5" y2="551"/>
<line x1="718.5" y1="550.5" x2="727.5" y2="541.5" stroke-width="1.5"/>
<line x1="717" y1="546.5" x2="729" y2="546.5" stroke-width="1.8"/>
<line x1="726.5" y1="541" x2="726.5" y2="551"/>
<line x1="722" y1="550.5" x2="731" y2="541.5" stroke-width="1.5"/>
<line x1="720.5" y1="546.5" x2="732.5" y2="546.5" stroke-width="1.8"/>
<line x1="795.5" y1="541" x2="795.5" y2="551"/>
<line x1="791" y1="550.5" x2="800" y2="541.5" stroke-width="1.5"/>
<line x1="789.5" y1="546.5" x2="801.5" y2="546.5" stroke-width="1.8"/>
<line x1="805.5" y1="541" x2="805.5" y2="551"/>
<line x1="801" y1="550.5" x2="810" y2="541.5" stroke-width="1.5"/>
<line x1="799.5" y1="546.5" x2="811.5" y2="546.5" stroke-width="1.8"/>
<text class="n" x="607.5" y="541.8" font-size="12.6" text-anchor="middle" textLength="18.8" lengthAdjust="spacingAndGlyphs">3.75</text>
<text class="n" x="663.5" y="541.8" font-size="12.6" text-anchor="middle" textLength="13.4" lengthAdjust="spacingAndGlyphs">.25</text>
<text class="n" x="698" y="541.8" font-size="12.6" text-anchor="middle" textLength="18.8" lengthAdjust="spacingAndGlyphs">1.10</text>
<text class="n" x="716" y="541.8" font-size="12.6" text-anchor="middle" textLength="13.4" lengthAdjust="spacingAndGlyphs">.10</text>
<text class="n" x="780" y="540.8" font-size="12.6" text-anchor="middle" textLength="18.8" lengthAdjust="spacingAndGlyphs">1.80</text>
<text class="n" x="817" y="541.8" font-size="12.6" text-anchor="middle" textLength="13.4" lengthAdjust="spacingAndGlyphs">.25</text>
<circle cx="666" cy="510" r="12"/>
<text class="n" x="666" y="515.3" font-size="13" text-anchor="middle" textLength="19" lengthAdjust="spacingAndGlyphs">202</text>
<line x1="677.5" y1="493.5" x2="816" y2="493.5"/>
<line x1="687.5" y1="488.5" x2="687.5" y2="498.5"/>
<line x1="683" y1="498" x2="692" y2="489" stroke-width="1.5"/>
<line x1="682.5" y1="493.5" x2="692.5" y2="493.5" stroke-width="1.8"/>
<line x1="771.5" y1="488.5" x2="771.5" y2="498.5"/>
<line x1="766.5" y1="498" x2="775.5" y2="489" stroke-width="1.5"/>
<line x1="766" y1="493.5" x2="776" y2="493.5" stroke-width="1.8"/>
<line x1="795.5" y1="488.5" x2="795.5" y2="498.5"/>
<line x1="791" y1="498" x2="800" y2="489" stroke-width="1.5"/>
<line x1="790.5" y1="493.5" x2="800.5" y2="493.5" stroke-width="1.8"/>
<line x1="805.5" y1="488.5" x2="805.5" y2="498.5"/>
<line x1="801" y1="498" x2="810" y2="489" stroke-width="1.5"/>
<line x1="800.5" y1="493.5" x2="810.5" y2="493.5" stroke-width="1.8"/>
<text class="n" x="730" y="490.3" font-size="12.6" text-anchor="middle" textLength="18.8" lengthAdjust="spacingAndGlyphs">2.25</text>
<text class="n" x="784" y="489.8" font-size="12.6" text-anchor="middle" textLength="13.4" lengthAdjust="spacingAndGlyphs">.60</text>
<text class="n" x="817" y="489.8" font-size="12.6" text-anchor="middle" textLength="13.4" lengthAdjust="spacingAndGlyphs">.25</text>
<line x1="759" y1="465.5" x2="769" y2="465.5" stroke-width="1.8"/>
<line x1="759.5" y1="460.5" x2="768.5" y2="469.5" stroke-width="1.5"/>
<line x1="759" y1="512.5" x2="769" y2="512.5" stroke-width="1.8"/>
<line x1="759.5" y1="508" x2="768.5" y2="517" stroke-width="1.5"/>
<line x1="759" y1="515.5" x2="769" y2="515.5" stroke-width="1.8"/>
<line x1="759.5" y1="511" x2="768.5" y2="520" stroke-width="1.5"/>
<line x1="759" y1="575.5" x2="769" y2="575.5" stroke-width="1.8"/>
<line x1="759.5" y1="571" x2="768.5" y2="580" stroke-width="1.5"/>
<line x1="759" y1="578.5" x2="769" y2="578.5" stroke-width="1.8"/>
<line x1="759.5" y1="573.5" x2="768.5" y2="582.5" stroke-width="1.5"/>
<line x1="759" y1="712.5" x2="769" y2="712.5" stroke-width="1.8"/>
<line x1="759.5" y1="707.5" x2="768.5" y2="716.5" stroke-width="1.5"/>
<line x1="759" y1="721.5" x2="769" y2="721.5" stroke-width="1.8"/>
<line x1="759.5" y1="717" x2="768.5" y2="726" stroke-width="1.5"/>
<text class="n" font-size="12.6" text-anchor="middle" textLength="13.4" lengthAdjust="spacingAndGlyphs" transform="translate(759.7 454) rotate(-90)">.60</text>
<text class="n" font-size="12.6" text-anchor="middle" textLength="18.8" lengthAdjust="spacingAndGlyphs" transform="translate(759.7 481) rotate(-90)">1.25</text>
<text class="n" font-size="12.6" text-anchor="middle" textLength="13.4" lengthAdjust="spacingAndGlyphs" transform="translate(759.7 502.5) rotate(-90)">.10</text>
<text class="n" font-size="12.6" text-anchor="middle" textLength="18.8" lengthAdjust="spacingAndGlyphs" transform="translate(759.7 531) rotate(-90)">1.60</text>
<text class="n" font-size="12.6" text-anchor="middle" textLength="13.4" lengthAdjust="spacingAndGlyphs" transform="translate(759.7 585) rotate(-90)">.10</text>
<text class="n" font-size="12.6" text-anchor="middle" textLength="18.8" lengthAdjust="spacingAndGlyphs" transform="translate(759.7 629.5) rotate(-90)">3.50</text>
<text class="n" font-size="12.6" text-anchor="middle" textLength="13.4" lengthAdjust="spacingAndGlyphs" transform="translate(759.7 694) rotate(-90)">.25</text>
<line x1="805.5" y1="591.5" x2="822" y2="591.5"/>
<line x1="805.5" y1="586" x2="805.5" y2="596"/>
<line x1="801" y1="595.5" x2="810" y2="586.5" stroke-width="1.5"/>
<line x1="810.5" y1="586" x2="810.5" y2="596"/>
<line x1="805.5" y1="595.5" x2="814.5" y2="586.5" stroke-width="1.5"/>
<text class="n" x="818" y="587.8" font-size="12.6" textLength="13.4" lengthAdjust="spacingAndGlyphs">.15</text>
<text class="n" font-size="12.6" text-anchor="middle" textLength="18.8" lengthAdjust="spacingAndGlyphs" transform="translate(625.2 430) rotate(-90)">1.65</text>
<text class="n" x="650" y="443.3" font-size="12.6" text-anchor="middle" textLength="13.4" lengthAdjust="spacingAndGlyphs">.25</text>
<text class="n" x="676" y="443.3" font-size="12.6" text-anchor="middle" textLength="13.4" lengthAdjust="spacingAndGlyphs">.40</text>
<line x1="530.5" y1="770.5" x2="795" y2="770.5"/>
<line x1="530.5" y1="774.5" x2="801" y2="774.5"/>
<line x1="521.5" y1="778.5" x2="805.5" y2="778.5"/>
<line x1="805.5" y1="721.5" x2="805.5" y2="778"/>
<line x1="801.5" y1="721.5" x2="801.5" y2="774.5"/>
<line x1="795.5" y1="721.5" x2="795.5" y2="770"/>
<path d="M156.5 589.5 L156.5 761.5 L440.5 761.5"/>
<path d="M160.5 589.5 L160.5 757.5 L440.5 757.5"/>
<path d="M162.5 589.5 L162.5 755.5 L440.5 755.5"/>
<path d="M166.5 589.5 L166.5 751.5 L521.5 751.5"/>
<path d="M167.5 589.5 L167.5 749.5 L521.5 749.5"/>
<line x1="440.5" y1="755.5" x2="440.5" y2="761.5"/>
<line x1="171.5" y1="589" x2="171.5" y2="749.5"/>
<line x1="186.5" y1="589" x2="186.5" y2="749.5"/>
<line x1="201.5" y1="589" x2="201.5" y2="749.5"/>
<line x1="217.5" y1="589" x2="217.5" y2="749.5"/>
<line x1="232.5" y1="648" x2="232.5" y2="749.5"/>
<line x1="247.5" y1="648" x2="247.5" y2="749.5"/>
<line x1="262.5" y1="648" x2="262.5" y2="749.5"/>
<line x1="277.5" y1="648" x2="277.5" y2="749.5"/>
<line x1="292.5" y1="648" x2="292.5" y2="749.5"/>
<line x1="307.5" y1="648" x2="307.5" y2="749.5"/>
<line x1="322.5" y1="648" x2="322.5" y2="749.5"/>
<line x1="337.5" y1="648" x2="337.5" y2="749.5"/>
<line x1="352.5" y1="648" x2="352.5" y2="749.5"/>
<line x1="367.5" y1="648" x2="367.5" y2="749.5"/>
<line x1="382.5" y1="648" x2="382.5" y2="749.5"/>
<line x1="398.5" y1="648" x2="398.5" y2="749.5"/>
<line x1="413.5" y1="648" x2="413.5" y2="749.5"/>
<line x1="428.5" y1="648" x2="428.5" y2="749.5"/>
<line x1="443.5" y1="657" x2="443.5" y2="749.5"/>
<line x1="458.5" y1="657" x2="458.5" y2="749.5"/>
<line x1="473.5" y1="657" x2="473.5" y2="749.5"/>
<line x1="488.5" y1="657" x2="488.5" y2="749.5"/>
<line x1="503.5" y1="657" x2="503.5" y2="749.5"/>
<line x1="518.5" y1="657" x2="518.5" y2="749.5"/>
<line x1="167" y1="594.5" x2="220.5" y2="594.5"/>
<line x1="167" y1="610.5" x2="220.5" y2="610.5"/>
<line x1="167" y1="625.5" x2="220.5" y2="625.5"/>
<line x1="167" y1="640.5" x2="220.5" y2="640.5"/>
<line x1="167" y1="655.5" x2="521.5" y2="655.5"/>
<line x1="167" y1="670.5" x2="521.5" y2="670.5"/>
<line x1="167" y1="685.5" x2="521.5" y2="685.5"/>
<line x1="167" y1="700.5" x2="521.5" y2="700.5"/>
<line x1="167" y1="715.5" x2="521.5" y2="715.5"/>
<line x1="167" y1="731.5" x2="521.5" y2="731.5"/>
<line x1="167" y1="746.5" x2="521.5" y2="746.5" stroke-width="1.4"/>
<line x1="439" y1="655.5" x2="521.5" y2="655.5"/>
<line x1="439" y1="657.5" x2="521.5" y2="657.5"/>
<line x1="439.5" y1="638" x2="439.5" y2="657.5"/>
<line x1="220.5" y1="649.5" x2="439" y2="649.5"/>
<rect x="442.5" y="756.5" width="2" height="3" stroke-width="1.2"/>
<rect x="446.5" y="756.5" width="2" height="3" stroke-width="1.2"/>
<rect x="449.5" y="756.5" width="2" height="3" stroke-width="1.2"/>
<rect x="453.5" y="756.5" width="2" height="3" stroke-width="1.2"/>
<rect x="456.5" y="756.5" width="2" height="3" stroke-width="1.2"/>
<rect x="460.5" y="756.5" width="2" height="3" stroke-width="1.2"/>
<rect x="464.5" y="756.5" width="2" height="3" stroke-width="1.2"/>
<rect x="467.5" y="756.5" width="2" height="3" stroke-width="1.2"/>
<rect x="471.5" y="756.5" width="2" height="3" stroke-width="1.2"/>
<rect x="474.5" y="756.5" width="2" height="3" stroke-width="1.2"/>
<rect x="478.5" y="756.5" width="2" height="3" stroke-width="1.2"/>
<rect x="482.5" y="756.5" width="2" height="3" stroke-width="1.2"/>
<rect x="485.5" y="756.5" width="2" height="3" stroke-width="1.2"/>
<rect x="489.5" y="756.5" width="2" height="3" stroke-width="1.2"/>
<rect x="492.5" y="756.5" width="2" height="3" stroke-width="1.2"/>
<rect x="496.5" y="756.5" width="2" height="3" stroke-width="1.2"/>
<rect x="500.5" y="756.5" width="2" height="3" stroke-width="1.2"/>
<rect x="503.5" y="756.5" width="2" height="3" stroke-width="1.2"/>
<rect x="507.5" y="756.5" width="2" height="3" stroke-width="1.2"/>
<rect x="510.5" y="756.5" width="2" height="3" stroke-width="1.2"/>
<rect x="514.5" y="756.5" width="2" height="3" stroke-width="1.2"/>
<rect x="518.5" y="756.5" width="2" height="3" stroke-width="1.2"/>
<line x1="440" y1="755.5" x2="521.5" y2="755.5"/>
<line x1="145" y1="667.5" x2="540" y2="667.5"/>
<line x1="156.5" y1="662.5" x2="156.5" y2="672.5"/>
<line x1="152" y1="672" x2="161" y2="663" stroke-width="1.5"/>
<line x1="150.5" y1="667.5" x2="162.5" y2="667.5" stroke-width="1.8"/>
<line x1="521.5" y1="662.5" x2="521.5" y2="672.5"/>
<line x1="517" y1="672" x2="526" y2="663" stroke-width="1.5"/>
<line x1="515.5" y1="667.5" x2="527.5" y2="667.5" stroke-width="1.8"/>
<line x1="531.5" y1="662.5" x2="531.5" y2="672.5"/>
<line x1="526.5" y1="672" x2="535.5" y2="663" stroke-width="1.5"/>
<line x1="525" y1="667.5" x2="537" y2="667.5" stroke-width="1.8"/>
<text class="n" x="339.5" y="664.8" font-size="12.6" text-anchor="middle" textLength="18.8" lengthAdjust="spacingAndGlyphs">9.65</text>
<text class="n" x="506" y="664.8" font-size="12.6" text-anchor="middle" textLength="13.4" lengthAdjust="spacingAndGlyphs">.25</text>
<line x1="198.5" y1="761.5" x2="212.5" y2="761.5" stroke-width="1.8"/>
<line x1="201" y1="757" x2="210" y2="766" stroke-width="1.5"/>
<line x1="378.5" y1="761.5" x2="392.5" y2="761.5" stroke-width="1.8"/>
<line x1="381" y1="757" x2="390" y2="766" stroke-width="1.5"/>
<text class="n" font-size="12.6" text-anchor="middle" textLength="18.8" lengthAdjust="spacingAndGlyphs" transform="translate(201.2 682.5) rotate(-90)">4.55</text>
<text class="n" font-size="12.6" text-anchor="middle" textLength="18.8" lengthAdjust="spacingAndGlyphs" transform="translate(380.7 705) rotate(-90)">3.00</text>
<text class="r" x="275.5" y="697" font-size="12.8" textLength="42" lengthAdjust="spacingAndGlyphs">ΒΕΡΑΝΤΑ</text>
<text class="n" x="287.5" y="713.3" font-size="12.6" textLength="24.5" lengthAdjust="spacingAndGlyphs">+3.70</text>
<line x1="287" y1="715.5" x2="313" y2="715.5"/>
<circle cx="280" cy="715.5" r="6"/>
<path d="M280 715.5 L280 709.5 A6 6 0 0 0 274 715.5 Z" style="fill:#000"/>
<path d="M280 715.5 L280 721.5 A6 6 0 0 0 286 715.5 Z" style="fill:#000"/>
<line x1="271" y1="715.5" x2="289" y2="715.5"/>
<line x1="280.5" y1="706.5" x2="280.5" y2="724.5"/>
<line x1="250.5" y1="698.5" x2="250.5" y2="718.5"/>
<line x1="185.5" y1="617.5" x2="185.5" y2="648.5"/>
<path d="M185.5 648.5 L183.7 638.5 L187.3 638.5 Z" stroke-width="0.5" style="fill:#000"/>
<line x1="453.5" y1="698.5" x2="453.5" y2="728"/>
<path d="M453.5 728 L451.7 718 L455.3 718 Z" stroke-width="0.5" style="fill:#000"/>
<line x1="476" y1="677.5" x2="485" y2="656"/>
<path d="M485 656 L483.19 665 L479.86 663.61 Z" stroke-width="0.5" style="fill:#000"/>
<path d="M450 650 L378 748 M453 650.5 L381 749.5" stroke-dasharray="5 2.5"/>
<path d="M451 650 L531.5 749 M454 648.5 L534.5 747.5" stroke-dasharray="5 2.5"/>
<circle cx="378.5" cy="749" r="2"/>
<circle cx="533" cy="749.5" r="2.2"/>
<line x1="399" y1="651.5" x2="452" y2="651.5" stroke-width="1.3" stroke-dasharray="6 2"/>
<ellipse cx="406" cy="651" rx="4" ry="1.6"/>
<ellipse cx="444" cy="651" rx="5" ry="1.8"/>
<line x1="215" y1="752.5" x2="230" y2="752.5" stroke-width="2"/>
<line x1="286" y1="752.5" x2="300" y2="752.5" stroke-width="2"/>
<line x1="437" y1="752.5" x2="447" y2="752.5" stroke-width="2"/>
<text class="r" x="401" y="667.5" font-size="11" textLength="34" lengthAdjust="spacingAndGlyphs">ΤΔΡ.Φ4''</text>
<text class="i" x="402.5" y="685" font-size="11" textLength="70" lengthAdjust="spacingAndGlyphs">επενδυση απο</text>
<line x1="402" y1="686.5" x2="475" y2="686.5"/>
<text class="i" x="402.5" y="696.5" font-size="11" textLength="21" lengthAdjust="spacingAndGlyphs">ξυλο</text>
<text class="i" x="373.6" y="779.6" font-size="11.5" textLength="82" lengthAdjust="spacingAndGlyphs">καθετα στοιχεια</text>
<line x1="370.5" y1="781.5" x2="462.5" y2="781.5"/>
<text class="i" x="373.6" y="791.7" font-size="11.5" textLength="90" lengthAdjust="spacingAndGlyphs">αλουμινιου 4Χ8εκ.</text>
<line x1="462.5" y1="781.5" x2="462.5" y2="760.5"/>
<path d="M462.5 760.5 L464 766.5 L461 766.5 Z" stroke-width="0.5" style="fill:#000"/>
<line x1="531.5" y1="478" x2="531.5" y2="638"/>
<rect x="521.5" y="691.5" width="10" height="30" style="fill:url(#ht);stroke:none"/>
<line x1="531.5" y1="667.5" x2="531.5" y2="782"/>
<line x1="521.5" y1="782.5" x2="531" y2="782.5"/>
</g>
</svg>
</body></html>
